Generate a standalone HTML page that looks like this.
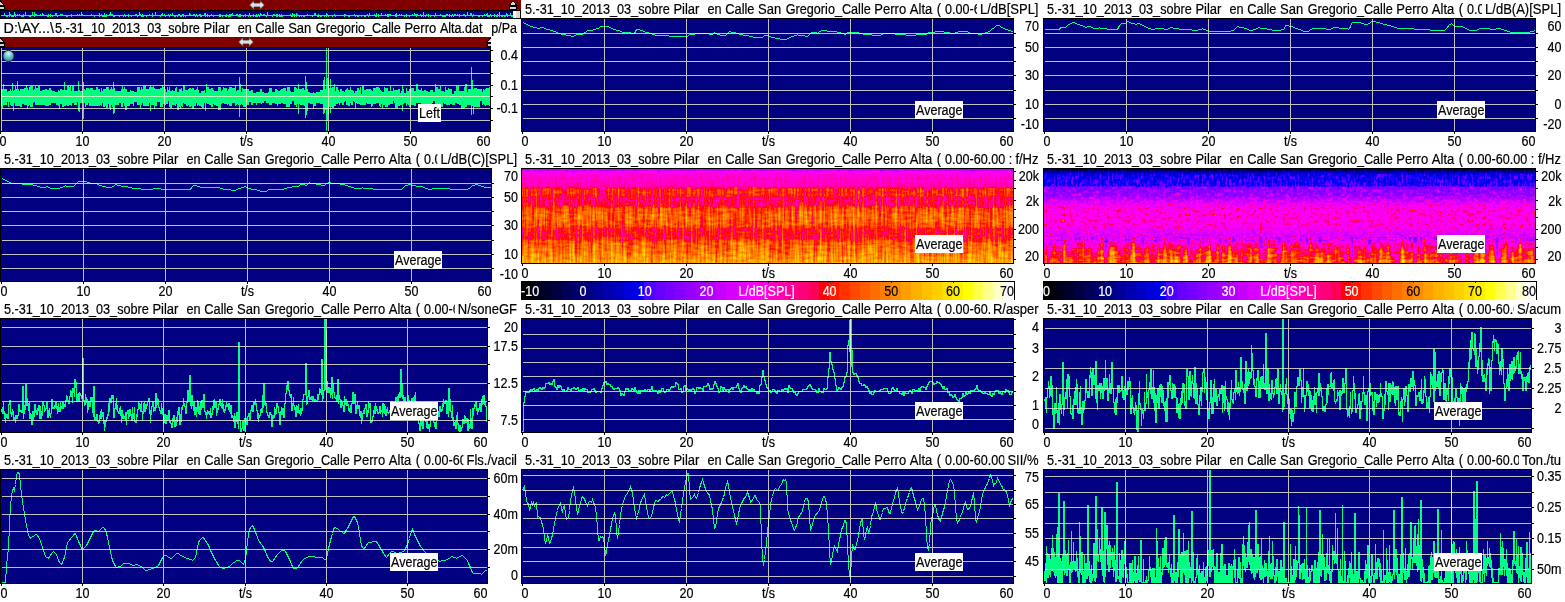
<!DOCTYPE html>
<html><head><meta charset="utf-8"><title>Analysis</title>
<style>html,body{margin:0;padding:0;background:#fff;width:1565px;height:602px;overflow:hidden}svg{display:block}text{stroke-width:0.2px}</style>
</head><body>
<svg width="1565" height="602" viewBox="0 0 1565 602" style="font-family:'Liberation Sans',Arial,sans-serif;font-size:14px;white-space:pre">
<rect width="1565" height="602" fill="#fff"/>
<defs>
<clipPath id="cr1c1"><rect x="1" y="48" width="489" height="83"/></clipPath>
<clipPath id="cr1c2"><rect x="522" y="19" width="491" height="112"/></clipPath>
<clipPath id="cr1c3"><rect x="1044" y="19" width="491" height="112"/></clipPath>
<clipPath id="cr2c1"><rect x="1" y="169" width="490" height="112"/></clipPath>
<clipPath id="cr2c2"><rect x="522" y="169" width="491" height="94"/></clipPath>
<clipPath id="cr2c3"><rect x="1044" y="169" width="491" height="94"/></clipPath>
<clipPath id="cr3c1"><rect x="1" y="319" width="486" height="113"/></clipPath>
<clipPath id="cr3c2"><rect x="522" y="319" width="491" height="113"/></clipPath>
<clipPath id="cr3c3"><rect x="1044" y="319" width="487" height="113"/></clipPath>
<clipPath id="cr4c1"><rect x="1" y="470" width="486" height="113"/></clipPath>
<clipPath id="cr4c2"><rect x="522" y="470" width="491" height="113"/></clipPath>
<clipPath id="cr4c3"><rect x="1044" y="470" width="487" height="113"/></clipPath>
</defs>
<rect x="0" y="47" width="491" height="85" fill="#000" shape-rendering="crispEdges"/>
<rect x="1" y="48" width="489" height="83" fill="#000080" shape-rendering="crispEdges"/>
<g clip-path="url(#cr1c1)"><path d="M1.5 89V106M2.5 89V108M3.5 84V105M4.5 89V105M5.5 89V105M6.5 89V105M7.5 92V102M8.5 91V107M9.5 91V102M10.5 89V105M11.5 91V106M12.5 83V106M13.5 91V111M14.5 90V103M15.5 86V106M16.5 89V106M17.5 81V106M18.5 89V106M19.5 91V106M20.5 89V107M21.5 89V107M22.5 89V104M23.5 89V104M24.5 88V105M25.5 88V105M26.5 85V105M27.5 88V109M28.5 90V106M29.5 87V105M30.5 86V107M31.5 86V107M32.5 86V107M33.5 90V103M34.5 89V102M35.5 86V105M36.5 88V105M37.5 88V105M38.5 86V105M39.5 86V105M40.5 91V105M41.5 91V105M42.5 90V105M43.5 90V105M44.5 90V105M45.5 89V106M46.5 89V106M47.5 90V106M48.5 90V106M49.5 88V105M50.5 88V105M51.5 90V103M52.5 91V103M53.5 91V103M54.5 91V103M55.5 92V103M56.5 92V105M57.5 92V105M58.5 90V106M59.5 91V109M60.5 89V104M61.5 89V104M62.5 90V107M63.5 90V107M64.5 82V106M65.5 90V106M66.5 90V105M67.5 86V106M68.5 86V106M69.5 87V105M70.5 86V105M71.5 91V106M72.5 86V103M73.5 86V103M74.5 91V105M75.5 91V105M76.5 91V105M77.5 91V102M78.5 81V111M79.5 90V112M80.5 91V103M81.5 91V103M82.5 91V103M83.5 82V119M84.5 89V103M85.5 90V107M86.5 88V105M87.5 88V105M88.5 88V103M89.5 89V106M90.5 88V106M91.5 88V106M92.5 88V106M93.5 90V106M94.5 90V106M95.5 90V106M96.5 87V106M97.5 87V106M98.5 89V106M99.5 89V106M100.5 92V105M101.5 88V106M102.5 91V103M103.5 89V107M104.5 89V107M105.5 89V106M106.5 87V108M107.5 87V108M108.5 87V104M109.5 90V108M110.5 89V110M111.5 87V105M112.5 89V107M113.5 82V114M114.5 88V113M115.5 91V105M116.5 91V105M117.5 91V105M118.5 91V105M119.5 91V103M120.5 91V103M121.5 89V107M122.5 86V107M123.5 89V103M124.5 87V106M125.5 89V110M126.5 89V110M127.5 92V106M128.5 92V106M129.5 92V106M130.5 90V104M131.5 91V104M132.5 91V104M133.5 91V106M134.5 92V102M135.5 92V102M136.5 92V102M137.5 87V105M138.5 87V105M139.5 87V105M140.5 90V109M141.5 87V105M142.5 89V103M143.5 86V106M144.5 86V106M145.5 86V106M146.5 89V106M147.5 89V106M148.5 89V106M149.5 87V103M150.5 85V111M151.5 87V105M152.5 87V105M153.5 86V105M154.5 88V109M155.5 89V106M156.5 89V106M157.5 89V102M158.5 89V102M159.5 89V102M160.5 88V107M161.5 88V107M162.5 85V107M163.5 87V104M164.5 87V104M165.5 89V105M166.5 92V104M167.5 87V104M168.5 90V101M169.5 87V107M170.5 91V108M171.5 91V108M172.5 90V105M173.5 91V105M174.5 91V105M175.5 88V106M176.5 87V104M177.5 92V110M178.5 92V110M179.5 89V107M180.5 89V109M181.5 88V106M182.5 91V107M183.5 85V103M184.5 86V104M185.5 90V104M186.5 90V106M187.5 90V106M188.5 89V105M189.5 88V107M190.5 88V107M191.5 89V106M192.5 88V109M193.5 88V109M194.5 90V106M195.5 90V106M196.5 89V103M197.5 87V106M198.5 90V105M199.5 93V106M200.5 93V106M201.5 91V107M202.5 91V108M203.5 91V108M204.5 90V103M205.5 93V111M206.5 84V103M207.5 87V104M208.5 87V104M209.5 89V105M210.5 89V105M211.5 88V107M212.5 88V107M213.5 90V104M214.5 91V105M215.5 91V105M216.5 91V106M217.5 91V106M218.5 87V110M219.5 87V110M220.5 87V110M221.5 91V104M222.5 90V103M223.5 87V103M224.5 88V104M225.5 88V104M226.5 88V104M227.5 91V105M228.5 89V104M229.5 87V106M230.5 87V106M231.5 87V106M232.5 88V103M233.5 88V103M234.5 88V103M235.5 85V106M236.5 91V105M237.5 90V104M238.5 90V105M239.5 77V117M240.5 84V105M241.5 92V104M242.5 88V105M243.5 89V107M244.5 89V107M245.5 89V107M246.5 89V105M247.5 89V105M248.5 89V105M249.5 91V102M250.5 91V102M251.5 90V105M252.5 90V105M253.5 93V103M254.5 93V103M255.5 93V103M256.5 92V105M257.5 92V103M258.5 92V103M259.5 92V103M260.5 89V103M261.5 89V104M262.5 92V103M263.5 92V103M264.5 93V101M265.5 93V101M266.5 93V103M267.5 93V103M268.5 92V103M269.5 88V105M270.5 88V105M271.5 88V105M272.5 92V103M273.5 92V103M274.5 92V103M275.5 89V104M276.5 89V104M277.5 90V106M278.5 91V104M279.5 91V104M280.5 90V104M281.5 89V103M282.5 89V103M283.5 88V104M284.5 88V104M285.5 88V104M286.5 91V107M287.5 87V107M288.5 87V107M289.5 87V107M290.5 91V104M291.5 92V104M292.5 92V101M293.5 92V101M294.5 87V105M295.5 87V105M296.5 88V107M297.5 89V104M298.5 84V114M299.5 89V104M300.5 89V105M301.5 89V105M302.5 88V105M303.5 88V105M304.5 90V106M305.5 76V118M306.5 82V115M307.5 89V111M308.5 92V103M309.5 92V103M310.5 93V104M311.5 93V104M312.5 93V104M313.5 92V109M314.5 93V106M315.5 93V106M316.5 92V103M317.5 92V103M318.5 92V103M319.5 92V103M320.5 90V104M321.5 90V104M322.5 90V104M323.5 80V114M324.5 77V113M325.5 89V110M326.5 48V132M327.5 78V121M328.5 80V114M329.5 88V107M330.5 79V113M331.5 88V107M332.5 87V108M333.5 87V108M334.5 84V106M335.5 91V106M336.5 87V104M337.5 87V104M338.5 90V103M339.5 92V105M340.5 89V103M341.5 89V103M342.5 91V105M343.5 91V105M344.5 92V102M345.5 90V101M346.5 89V105M347.5 88V105M348.5 90V106M349.5 90V106M350.5 87V103M351.5 90V105M352.5 90V105M353.5 91V101M354.5 93V102M355.5 91V109M356.5 91V103M357.5 88V104M358.5 88V104M359.5 90V104M360.5 87V105M361.5 94V105M362.5 86V105M363.5 86V105M364.5 90V105M365.5 90V105M366.5 89V103M367.5 89V104M368.5 89V104M369.5 89V104M370.5 89V104M371.5 90V107M372.5 91V106M373.5 88V104M374.5 88V104M375.5 88V104M376.5 87V103M377.5 87V103M378.5 87V103M379.5 88V106M380.5 90V107M381.5 91V104M382.5 92V108M383.5 92V105M384.5 87V105M385.5 88V107M386.5 88V107M387.5 88V107M388.5 91V105M389.5 91V105M390.5 86V104M391.5 91V104M392.5 91V104M393.5 88V101M394.5 90V103M395.5 90V108M396.5 90V108M397.5 90V108M398.5 89V106M399.5 89V106M400.5 93V105M401.5 91V105M402.5 85V111M403.5 89V104M404.5 93V103M405.5 93V103M406.5 88V106M407.5 91V104M408.5 91V105M409.5 89V107M410.5 89V107M411.5 88V105M412.5 88V105M413.5 88V105M414.5 91V106M415.5 91V106M416.5 84V103M417.5 84V103M418.5 89V103M419.5 90V103M420.5 90V103M421.5 88V106M422.5 91V105M423.5 91V105M424.5 90V109M425.5 90V109M426.5 91V107M427.5 91V107M428.5 92V110M429.5 92V110M430.5 90V104M431.5 90V104M432.5 90V103M433.5 92V101M434.5 92V101M435.5 84V104M436.5 87V104M437.5 87V104M438.5 89V104M439.5 89V104M440.5 86V107M441.5 91V107M442.5 91V107M443.5 91V103M444.5 92V104M445.5 87V104M446.5 90V105M447.5 90V105M448.5 88V105M449.5 89V105M450.5 89V104M451.5 89V104M452.5 94V105M453.5 94V105M454.5 91V105M455.5 91V103M456.5 86V103M457.5 86V104M458.5 86V104M459.5 91V105M460.5 91V105M461.5 91V109M462.5 91V109M463.5 91V109M464.5 87V108M465.5 84V107M466.5 84V107M467.5 92V105M468.5 89V105M469.5 89V105M470.5 89V105M471.5 67V115M472.5 80V106M473.5 89V114M474.5 88V107M475.5 88V107M476.5 88V107M477.5 89V107M478.5 89V107M479.5 89V107M480.5 89V101M481.5 89V101M482.5 92V105M483.5 89V104M484.5 90V105M485.5 89V106M486.5 88V105M487.5 88V105M488.5 88V105M489.5 87V106" stroke="#00ff80" stroke-width="1" fill="none" shape-rendering="crispEdges"/></g>
<path d="M2 50.5H490M2 61.5H490M2 73.5H490M2 85.5H490M2 96.5H490M2 108.5H490M2 120.5H490M82.5 48V131M164.5 48V131M246.5 48V131M328.5 48V131M410.5 48V131M1.5 48V131" stroke="#c0c0c0" stroke-width="1" fill="none" shape-rendering="crispEdges" style="mix-blend-mode:lighten"/>
<path d="M491 50.5h2M491 61.5h2M491 73.5h2M491 85.5h2M491 96.5h2M491 108.5h2M491 120.5h2M0.5 132v2M82.5 132v2M164.5 132v2M246.5 132v2M328.5 132v2M410.5 132v2" stroke="#000" stroke-width="1" fill="none" shape-rendering="crispEdges"/>
<text x="-0.5" y="146" fill="#000" stroke="#000" textLength="6.98" lengthAdjust="spacingAndGlyphs">0</text>
<text x="82.5" y="146" text-anchor="middle" fill="#000" stroke="#000" textLength="13.95" lengthAdjust="spacingAndGlyphs">10</text>
<text x="164.5" y="146" text-anchor="middle" fill="#000" stroke="#000" textLength="13.95" lengthAdjust="spacingAndGlyphs">20</text>
<text x="246.5" y="146" text-anchor="middle" fill="#000" stroke="#000" textLength="13.24" lengthAdjust="spacingAndGlyphs">t/s</text>
<text x="328.5" y="146" text-anchor="middle" fill="#000" stroke="#000" textLength="13.95" lengthAdjust="spacingAndGlyphs">40</text>
<text x="410.5" y="146" text-anchor="middle" fill="#000" stroke="#000" textLength="13.95" lengthAdjust="spacingAndGlyphs">50</text>
<text x="490.5" y="146" text-anchor="end" fill="#000" stroke="#000" textLength="13.95" lengthAdjust="spacingAndGlyphs">60</text>
<text x="518" y="59.7" text-anchor="end" fill="#000" stroke="#000" textLength="17.44" lengthAdjust="spacingAndGlyphs">0.4</text>
<text x="518" y="89.7" text-anchor="end" fill="#000" stroke="#000" textLength="17.44" lengthAdjust="spacingAndGlyphs">0.1</text>
<text x="518" y="113.2" text-anchor="end" fill="#000" stroke="#000" textLength="21.62" lengthAdjust="spacingAndGlyphs">-0.1</text>
<rect x="418" y="104" width="23" height="18" fill="#fff" shape-rendering="crispEdges"/>
<text x="419" y="118" fill="#000" stroke="#000" textLength="20.92" lengthAdjust="spacingAndGlyphs">Left</text>
<rect x="521" y="18" width="493" height="114" fill="#000" shape-rendering="crispEdges"/>
<rect x="522" y="19" width="491" height="112" fill="#000080" shape-rendering="crispEdges"/>
<g clip-path="url(#cr1c2)"><polyline points="522.5,22.5 523.5,22.5 524.5,23.5 525.5,23.5 526.5,24.5 527.5,24.5 528.5,25.5 529.5,25.5 530.5,26.5 531.5,26.5 532.5,26.5 533.5,27.5 534.5,27.5 535.5,27.5 536.5,27.5 537.5,28.5 538.5,28.5 539.5,28.5 540.5,27.5 541.5,27.5 542.5,27.5 543.5,27.5 544.5,28.5 545.5,28.5 546.5,29.5 547.5,29.5 548.5,29.5 549.5,29.5 550.5,30.5 551.5,30.5 552.5,30.5 553.5,31.5 554.5,31.5 555.5,31.5 556.5,32.5 557.5,32.5 558.5,33.5 559.5,33.5 560.5,33.5 561.5,34.5 562.5,34.5 563.5,34.5 564.5,34.5 565.5,34.5 566.5,35.5 567.5,35.5 568.5,35.5 569.5,35.5 570.5,35.5 571.5,36.5 572.5,36.5 573.5,36.5 574.5,35.5 575.5,35.5 576.5,34.5 577.5,34.5 578.5,34.5 579.5,34.5 580.5,34.5 581.5,34.5 582.5,34.5 583.5,33.5 584.5,32.5 585.5,32.5 586.5,31.5 587.5,30.5 588.5,30.5 589.5,30.5 590.5,30.5 591.5,30.5 592.5,30.5 593.5,29.5 594.5,29.5 595.5,29.5 596.5,28.5 597.5,28.5 598.5,28.5 599.5,27.5 600.5,26.5 601.5,26.5 602.5,26.5 603.5,26.5 604.5,26.5 605.5,26.5 606.5,26.5 607.5,26.5 608.5,26.5 609.5,27.5 610.5,27.5 611.5,28.5 612.5,28.5 613.5,29.5 614.5,29.5 615.5,29.5 616.5,30.5 617.5,30.5 618.5,30.5 619.5,30.5 620.5,31.5 621.5,31.5 622.5,32.5 623.5,32.5 624.5,32.5 625.5,32.5 626.5,32.5 627.5,32.5 628.5,32.5 629.5,32.5 630.5,32.5 631.5,33.5 632.5,33.5 633.5,33.5 634.5,33.5 635.5,31.5 636.5,29.5 637.5,29.5 638.5,29.5 639.5,29.5 640.5,30.5 641.5,30.5 642.5,30.5 643.5,31.5 644.5,31.5 645.5,32.5 646.5,32.5 647.5,32.5 648.5,32.5 649.5,33.5 650.5,33.5 651.5,33.5 652.5,34.5 653.5,34.5 654.5,34.5 655.5,35.5 656.5,35.5 657.5,35.5 658.5,35.5 659.5,35.5 660.5,35.5 661.5,35.5 662.5,35.5 663.5,35.5 664.5,35.5 665.5,35.5 666.5,35.5 667.5,35.5 668.5,35.5 669.5,36.5 670.5,36.5 671.5,36.5 672.5,36.5 673.5,36.5 674.5,36.5 675.5,36.5 676.5,36.5 677.5,36.5 678.5,36.5 679.5,36.5 680.5,36.5 681.5,36.5 682.5,36.5 683.5,36.5 684.5,36.5 685.5,36.5 686.5,36.5 687.5,36.5 688.5,35.5 689.5,34.5 690.5,34.5 691.5,34.5 692.5,34.5 693.5,34.5 694.5,34.5 695.5,33.5 696.5,33.5 697.5,33.5 698.5,33.5 699.5,33.5 700.5,33.5 701.5,33.5 702.5,33.5 703.5,33.5 704.5,33.5 705.5,33.5 706.5,33.5 707.5,33.5 708.5,33.5 709.5,34.5 710.5,34.5 711.5,34.5 712.5,34.5 713.5,33.5 714.5,32.5 715.5,33.5 716.5,33.5 717.5,34.5 718.5,34.5 719.5,34.5 720.5,35.5 721.5,35.5 722.5,35.5 723.5,35.5 724.5,35.5 725.5,35.5 726.5,34.5 727.5,33.5 728.5,32.5 729.5,31.5 730.5,31.5 731.5,32.5 732.5,32.5 733.5,32.5 734.5,32.5 735.5,32.5 736.5,33.5 737.5,33.5 738.5,33.5 739.5,34.5 740.5,34.5 741.5,34.5 742.5,34.5 743.5,35.5 744.5,35.5 745.5,35.5 746.5,35.5 747.5,35.5 748.5,35.5 749.5,36.5 750.5,36.5 751.5,36.5 752.5,36.5 753.5,37.5 754.5,37.5 755.5,37.5 756.5,37.5 757.5,37.5 758.5,37.5 759.5,37.5 760.5,37.5 761.5,37.5 762.5,37.5 763.5,36.5 764.5,35.5 765.5,35.5 766.5,35.5 767.5,35.5 768.5,35.5 769.5,36.5 770.5,36.5 771.5,37.5 772.5,37.5 773.5,37.5 774.5,37.5 775.5,38.5 776.5,38.5 777.5,38.5 778.5,38.5 779.5,38.5 780.5,39.5 781.5,39.5 782.5,39.5 783.5,39.5 784.5,39.5 785.5,39.5 786.5,39.5 787.5,38.5 788.5,38.5 789.5,37.5 790.5,37.5 791.5,36.5 792.5,36.5 793.5,36.5 794.5,35.5 795.5,35.5 796.5,35.5 797.5,34.5 798.5,35.5 799.5,35.5 800.5,35.5 801.5,35.5 802.5,35.5 803.5,35.5 804.5,35.5 805.5,36.5 806.5,36.5 807.5,36.5 808.5,35.5 809.5,34.5 810.5,33.5 811.5,32.5 812.5,32.5 813.5,32.5 814.5,32.5 815.5,32.5 816.5,32.5 817.5,33.5 818.5,32.5 819.5,31.5 820.5,31.5 821.5,30.5 822.5,30.5 823.5,30.5 824.5,30.5 825.5,30.5 826.5,30.5 827.5,31.5 828.5,31.5 829.5,31.5 830.5,31.5 831.5,31.5 832.5,31.5 833.5,31.5 834.5,31.5 835.5,31.5 836.5,31.5 837.5,32.5 838.5,32.5 839.5,32.5 840.5,32.5 841.5,33.5 842.5,33.5 843.5,33.5 844.5,34.5 845.5,34.5 846.5,33.5 847.5,32.5 848.5,32.5 849.5,32.5 850.5,32.5 851.5,32.5 852.5,32.5 853.5,32.5 854.5,32.5 855.5,32.5 856.5,32.5 857.5,32.5 858.5,32.5 859.5,33.5 860.5,33.5 861.5,33.5 862.5,33.5 863.5,34.5 864.5,34.5 865.5,34.5 866.5,34.5 867.5,34.5 868.5,34.5 869.5,34.5 870.5,34.5 871.5,34.5 872.5,35.5 873.5,35.5 874.5,35.5 875.5,35.5 876.5,35.5 877.5,35.5 878.5,35.5 879.5,35.5 880.5,35.5 881.5,34.5 882.5,34.5 883.5,33.5 884.5,33.5 885.5,33.5 886.5,33.5 887.5,33.5 888.5,33.5 889.5,33.5 890.5,33.5 891.5,33.5 892.5,33.5 893.5,33.5 894.5,33.5 895.5,34.5 896.5,34.5 897.5,34.5 898.5,34.5 899.5,34.5 900.5,34.5 901.5,34.5 902.5,34.5 903.5,34.5 904.5,34.5 905.5,34.5 906.5,35.5 907.5,35.5 908.5,35.5 909.5,35.5 910.5,35.5 911.5,35.5 912.5,35.5 913.5,35.5 914.5,35.5 915.5,35.5 916.5,34.5 917.5,34.5 918.5,34.5 919.5,34.5 920.5,34.5 921.5,34.5 922.5,34.5 923.5,34.5 924.5,34.5 925.5,34.5 926.5,34.5 927.5,33.5 928.5,32.5 929.5,32.5 930.5,32.5 931.5,32.5 932.5,32.5 933.5,32.5 934.5,32.5 935.5,31.5 936.5,31.5 937.5,31.5 938.5,31.5 939.5,31.5 940.5,31.5 941.5,31.5 942.5,31.5 943.5,31.5 944.5,32.5 945.5,32.5 946.5,32.5 947.5,32.5 948.5,32.5 949.5,32.5 950.5,33.5 951.5,33.5 952.5,33.5 953.5,33.5 954.5,33.5 955.5,32.5 956.5,32.5 957.5,32.5 958.5,31.5 959.5,31.5 960.5,31.5 961.5,31.5 962.5,31.5 963.5,31.5 964.5,31.5 965.5,31.5 966.5,31.5 967.5,31.5 968.5,32.5 969.5,32.5 970.5,33.5 971.5,33.5 972.5,33.5 973.5,33.5 974.5,33.5 975.5,33.5 976.5,33.5 977.5,33.5 978.5,34.5 979.5,34.5 980.5,34.5 981.5,34.5 982.5,33.5 983.5,33.5 984.5,33.5 985.5,32.5 986.5,32.5 987.5,32.5 988.5,31.5 989.5,31.5 990.5,30.5 991.5,29.5 992.5,28.5 993.5,28.5 994.5,27.5 995.5,26.5 996.5,25.5 997.5,25.5 998.5,25.5 999.5,25.5 1000.5,26.5 1001.5,27.5 1002.5,27.5 1003.5,28.5 1004.5,28.5 1005.5,29.5 1006.5,29.5 1007.5,29.5 1008.5,30.5 1009.5,30.5 1010.5,30.5 1011.5,31.5 1012.5,31.5 1013.5,32.5" fill="none" stroke="#00ff80" stroke-width="1" shape-rendering="crispEdges"/></g>
<path d="M523 33.5H1013M523 47.5H1013M523 61.5H1013M523 75.5H1013M523 90.5H1013M523 104.5H1013M523 118.5H1013M604.5 19V131M686.5 19V131M768.5 19V131M850.5 19V131M932.5 19V131" stroke="#c0c0c0" stroke-width="1" fill="none" shape-rendering="crispEdges" style="mix-blend-mode:lighten"/>
<path d="M1014 33.5h2M1014 47.5h2M1014 61.5h2M1014 75.5h2M1014 90.5h2M1014 104.5h2M1014 118.5h2M522.5 132v2M604.5 132v2M686.5 132v2M768.5 132v2M850.5 132v2M932.5 132v2" stroke="#000" stroke-width="1" fill="none" shape-rendering="crispEdges"/>
<text x="521.5" y="146" fill="#000" stroke="#000" textLength="6.98" lengthAdjust="spacingAndGlyphs">0</text>
<text x="604.5" y="146" text-anchor="middle" fill="#000" stroke="#000" textLength="13.95" lengthAdjust="spacingAndGlyphs">10</text>
<text x="686.5" y="146" text-anchor="middle" fill="#000" stroke="#000" textLength="13.95" lengthAdjust="spacingAndGlyphs">20</text>
<text x="768.5" y="146" text-anchor="middle" fill="#000" stroke="#000" textLength="13.24" lengthAdjust="spacingAndGlyphs">t/s</text>
<text x="850.5" y="146" text-anchor="middle" fill="#000" stroke="#000" textLength="13.95" lengthAdjust="spacingAndGlyphs">40</text>
<text x="932.5" y="146" text-anchor="middle" fill="#000" stroke="#000" textLength="13.95" lengthAdjust="spacingAndGlyphs">50</text>
<text x="1013.5" y="146" text-anchor="end" fill="#000" stroke="#000" textLength="13.95" lengthAdjust="spacingAndGlyphs">60</text>
<text x="1039.0" y="31.1" text-anchor="end" fill="#000" stroke="#000" textLength="13.95" lengthAdjust="spacingAndGlyphs">70</text>
<text x="1039.0" y="52.0" text-anchor="end" fill="#000" stroke="#000" textLength="13.95" lengthAdjust="spacingAndGlyphs">50</text>
<text x="1039.0" y="80.1" text-anchor="end" fill="#000" stroke="#000" textLength="13.95" lengthAdjust="spacingAndGlyphs">30</text>
<text x="1039.0" y="109.0" text-anchor="end" fill="#000" stroke="#000" textLength="13.95" lengthAdjust="spacingAndGlyphs">10</text>
<text x="1039.0" y="128.5" text-anchor="end" fill="#000" stroke="#000" textLength="18.13" lengthAdjust="spacingAndGlyphs">-10</text>
<clipPath id="tr1c2"><rect x="520.5" y="0" width="456.5" height="18"/></clipPath>
<g clip-path="url(#tr1c2)"><text y="14" fill="#000" stroke="#000"><tspan x="524.98" textLength="144.80" lengthAdjust="spacingAndGlyphs">5.-31_10_2013_03_sobre</tspan> <tspan x="673.43" textLength="26.01" lengthAdjust="spacingAndGlyphs">Pilar</tspan>  <tspan x="707.55" textLength="14.08" lengthAdjust="spacingAndGlyphs">en</tspan> <tspan x="725.24" textLength="29.26" lengthAdjust="spacingAndGlyphs">Calle</tspan> <tspan x="758.11" textLength="23.13" lengthAdjust="spacingAndGlyphs">San</tspan> <tspan x="785.75" textLength="85.00" lengthAdjust="spacingAndGlyphs">Gregorio_Calle</tspan> <tspan x="874.33" textLength="31.79" lengthAdjust="spacingAndGlyphs">Perro</tspan> <tspan x="909.87" textLength="22.40" lengthAdjust="spacingAndGlyphs">Alta</tspan> <tspan x="936.69" textLength="4.33" lengthAdjust="spacingAndGlyphs">(</tspan> <tspan x="945.09" textLength="60.10" lengthAdjust="spacingAndGlyphs">0.00-60.00</tspan> <tspan x="1008.81" textLength="3.49" lengthAdjust="spacingAndGlyphs">:</tspan></text></g>
<text x="1038.5" y="14" text-anchor="end" fill="#000" stroke="#000" textLength="58.55" lengthAdjust="spacingAndGlyphs">L/dB[SPL]</text>
<rect x="915" y="101" width="48" height="18" fill="#fff" shape-rendering="crispEdges"/>
<text x="916" y="115" fill="#000" stroke="#000" textLength="46.5" lengthAdjust="spacingAndGlyphs">Average</text>
<rect x="1043" y="18" width="493" height="114" fill="#000" shape-rendering="crispEdges"/>
<rect x="1044" y="19" width="491" height="112" fill="#000080" shape-rendering="crispEdges"/>
<g clip-path="url(#cr1c3)"><polyline points="1044.5,29.5 1045.5,29.5 1046.5,29.5 1047.5,29.5 1048.5,29.5 1049.5,29.5 1050.5,29.5 1051.5,29.5 1052.5,29.5 1053.5,29.5 1054.5,29.5 1055.5,29.5 1056.5,29.5 1057.5,29.5 1058.5,29.5 1059.5,29.5 1060.5,27.5 1061.5,27.5 1062.5,27.5 1063.5,27.5 1064.5,27.5 1065.5,27.5 1066.5,26.5 1067.5,25.5 1068.5,24.5 1069.5,24.5 1070.5,23.5 1071.5,23.5 1072.5,22.5 1073.5,22.5 1074.5,22.5 1075.5,23.5 1076.5,23.5 1077.5,24.5 1078.5,24.5 1079.5,24.5 1080.5,25.5 1081.5,25.5 1082.5,25.5 1083.5,26.5 1084.5,26.5 1085.5,27.5 1086.5,27.5 1087.5,26.5 1088.5,26.5 1089.5,26.5 1090.5,26.5 1091.5,27.5 1092.5,27.5 1093.5,28.5 1094.5,28.5 1095.5,28.5 1096.5,28.5 1097.5,28.5 1098.5,28.5 1099.5,27.5 1100.5,28.5 1101.5,28.5 1102.5,28.5 1103.5,28.5 1104.5,28.5 1105.5,28.5 1106.5,28.5 1107.5,29.5 1108.5,29.5 1109.5,29.5 1110.5,29.5 1111.5,29.5 1112.5,29.5 1113.5,29.5 1114.5,29.5 1115.5,29.5 1116.5,29.5 1117.5,29.5 1118.5,27.5 1119.5,25.5 1120.5,24.5 1121.5,23.5 1122.5,23.5 1123.5,23.5 1124.5,23.5 1125.5,23.5 1126.5,22.5 1127.5,21.5 1128.5,21.5 1129.5,22.5 1130.5,22.5 1131.5,23.5 1132.5,23.5 1133.5,23.5 1134.5,23.5 1135.5,24.5 1136.5,24.5 1137.5,23.5 1138.5,23.5 1139.5,23.5 1140.5,24.5 1141.5,24.5 1142.5,25.5 1143.5,25.5 1144.5,26.5 1145.5,26.5 1146.5,27.5 1147.5,27.5 1148.5,28.5 1149.5,28.5 1150.5,28.5 1151.5,29.5 1152.5,29.5 1153.5,29.5 1154.5,29.5 1155.5,28.5 1156.5,28.5 1157.5,28.5 1158.5,28.5 1159.5,28.5 1160.5,28.5 1161.5,28.5 1162.5,28.5 1163.5,28.5 1164.5,29.5 1165.5,29.5 1166.5,29.5 1167.5,29.5 1168.5,28.5 1169.5,28.5 1170.5,27.5 1171.5,27.5 1172.5,27.5 1173.5,28.5 1174.5,28.5 1175.5,28.5 1176.5,28.5 1177.5,28.5 1178.5,28.5 1179.5,29.5 1180.5,29.5 1181.5,29.5 1182.5,29.5 1183.5,29.5 1184.5,29.5 1185.5,29.5 1186.5,29.5 1187.5,29.5 1188.5,29.5 1189.5,29.5 1190.5,29.5 1191.5,29.5 1192.5,30.5 1193.5,30.5 1194.5,30.5 1195.5,30.5 1196.5,30.5 1197.5,30.5 1198.5,29.5 1199.5,29.5 1200.5,29.5 1201.5,29.5 1202.5,28.5 1203.5,29.5 1204.5,29.5 1205.5,29.5 1206.5,30.5 1207.5,30.5 1208.5,30.5 1209.5,31.5 1210.5,31.5 1211.5,31.5 1212.5,31.5 1213.5,31.5 1214.5,31.5 1215.5,31.5 1216.5,31.5 1217.5,31.5 1218.5,31.5 1219.5,31.5 1220.5,31.5 1221.5,31.5 1222.5,31.5 1223.5,31.5 1224.5,31.5 1225.5,31.5 1226.5,31.5 1227.5,31.5 1228.5,31.5 1229.5,31.5 1230.5,31.5 1231.5,30.5 1232.5,30.5 1233.5,30.5 1234.5,29.5 1235.5,28.5 1236.5,27.5 1237.5,26.5 1238.5,26.5 1239.5,27.5 1240.5,27.5 1241.5,27.5 1242.5,27.5 1243.5,27.5 1244.5,28.5 1245.5,28.5 1246.5,28.5 1247.5,29.5 1248.5,29.5 1249.5,30.5 1250.5,30.5 1251.5,30.5 1252.5,30.5 1253.5,29.5 1254.5,29.5 1255.5,29.5 1256.5,28.5 1257.5,28.5 1258.5,27.5 1259.5,27.5 1260.5,28.5 1261.5,28.5 1262.5,28.5 1263.5,28.5 1264.5,28.5 1265.5,28.5 1266.5,28.5 1267.5,29.5 1268.5,29.5 1269.5,29.5 1270.5,29.5 1271.5,29.5 1272.5,30.5 1273.5,30.5 1274.5,30.5 1275.5,30.5 1276.5,30.5 1277.5,30.5 1278.5,30.5 1279.5,30.5 1280.5,30.5 1281.5,29.5 1282.5,29.5 1283.5,29.5 1284.5,28.5 1285.5,25.5 1286.5,25.5 1287.5,25.5 1288.5,25.5 1289.5,26.5 1290.5,26.5 1291.5,26.5 1292.5,26.5 1293.5,27.5 1294.5,27.5 1295.5,28.5 1296.5,28.5 1297.5,28.5 1298.5,29.5 1299.5,29.5 1300.5,29.5 1301.5,30.5 1302.5,30.5 1303.5,31.5 1304.5,31.5 1305.5,31.5 1306.5,31.5 1307.5,31.5 1308.5,31.5 1309.5,30.5 1310.5,29.5 1311.5,29.5 1312.5,28.5 1313.5,28.5 1314.5,28.5 1315.5,28.5 1316.5,28.5 1317.5,28.5 1318.5,28.5 1319.5,28.5 1320.5,28.5 1321.5,28.5 1322.5,28.5 1323.5,28.5 1324.5,28.5 1325.5,28.5 1326.5,29.5 1327.5,29.5 1328.5,29.5 1329.5,29.5 1330.5,29.5 1331.5,28.5 1332.5,28.5 1333.5,27.5 1334.5,27.5 1335.5,27.5 1336.5,27.5 1337.5,27.5 1338.5,27.5 1339.5,28.5 1340.5,28.5 1341.5,28.5 1342.5,28.5 1343.5,28.5 1344.5,28.5 1345.5,28.5 1346.5,28.5 1347.5,28.5 1348.5,29.5 1349.5,28.5 1350.5,26.5 1351.5,23.5 1352.5,22.5 1353.5,22.5 1354.5,22.5 1355.5,22.5 1356.5,22.5 1357.5,22.5 1358.5,22.5 1359.5,22.5 1360.5,22.5 1361.5,23.5 1362.5,23.5 1363.5,23.5 1364.5,24.5 1365.5,24.5 1366.5,24.5 1367.5,24.5 1368.5,23.5 1369.5,23.5 1370.5,22.5 1371.5,21.5 1372.5,21.5 1373.5,21.5 1374.5,21.5 1375.5,21.5 1376.5,22.5 1377.5,22.5 1378.5,22.5 1379.5,22.5 1380.5,23.5 1381.5,23.5 1382.5,23.5 1383.5,24.5 1384.5,24.5 1385.5,24.5 1386.5,24.5 1387.5,25.5 1388.5,25.5 1389.5,25.5 1390.5,25.5 1391.5,26.5 1392.5,26.5 1393.5,26.5 1394.5,27.5 1395.5,27.5 1396.5,27.5 1397.5,28.5 1398.5,28.5 1399.5,28.5 1400.5,28.5 1401.5,28.5 1402.5,28.5 1403.5,28.5 1404.5,28.5 1405.5,28.5 1406.5,28.5 1407.5,28.5 1408.5,28.5 1409.5,28.5 1410.5,28.5 1411.5,28.5 1412.5,28.5 1413.5,28.5 1414.5,29.5 1415.5,29.5 1416.5,29.5 1417.5,29.5 1418.5,29.5 1419.5,29.5 1420.5,29.5 1421.5,29.5 1422.5,29.5 1423.5,29.5 1424.5,29.5 1425.5,29.5 1426.5,29.5 1427.5,29.5 1428.5,29.5 1429.5,29.5 1430.5,30.5 1431.5,30.5 1432.5,30.5 1433.5,30.5 1434.5,30.5 1435.5,30.5 1436.5,30.5 1437.5,30.5 1438.5,30.5 1439.5,30.5 1440.5,30.5 1441.5,30.5 1442.5,30.5 1443.5,30.5 1444.5,30.5 1445.5,29.5 1446.5,28.5 1447.5,27.5 1448.5,25.5 1449.5,24.5 1450.5,24.5 1451.5,23.5 1452.5,24.5 1453.5,25.5 1454.5,26.5 1455.5,26.5 1456.5,26.5 1457.5,26.5 1458.5,26.5 1459.5,26.5 1460.5,26.5 1461.5,26.5 1462.5,26.5 1463.5,27.5 1464.5,27.5 1465.5,28.5 1466.5,28.5 1467.5,29.5 1468.5,29.5 1469.5,30.5 1470.5,30.5 1471.5,30.5 1472.5,30.5 1473.5,30.5 1474.5,30.5 1475.5,30.5 1476.5,30.5 1477.5,29.5 1478.5,29.5 1479.5,28.5 1480.5,28.5 1481.5,28.5 1482.5,28.5 1483.5,28.5 1484.5,28.5 1485.5,28.5 1486.5,28.5 1487.5,28.5 1488.5,28.5 1489.5,28.5 1490.5,29.5 1491.5,29.5 1492.5,29.5 1493.5,29.5 1494.5,29.5 1495.5,29.5 1496.5,28.5 1497.5,28.5 1498.5,28.5 1499.5,28.5 1500.5,28.5 1501.5,29.5 1502.5,29.5 1503.5,29.5 1504.5,30.5 1505.5,30.5 1506.5,30.5 1507.5,31.5 1508.5,31.5 1509.5,31.5 1510.5,32.5 1511.5,32.5 1512.5,32.5 1513.5,32.5 1514.5,32.5 1515.5,32.5 1516.5,32.5 1517.5,32.5 1518.5,32.5 1519.5,32.5 1520.5,32.5 1521.5,32.5 1522.5,32.5 1523.5,32.5 1524.5,32.5 1525.5,32.5 1526.5,32.5 1527.5,32.5 1528.5,32.5 1529.5,32.5 1530.5,31.5 1531.5,31.5 1532.5,31.5 1533.5,31.5 1534.5,30.5" fill="none" stroke="#00ff80" stroke-width="1" shape-rendering="crispEdges"/></g>
<path d="M1045 33.5H1535M1045 47.5H1535M1045 61.5H1535M1045 75.5H1535M1045 90.5H1535M1045 104.5H1535M1045 118.5H1535M1126.5 19V131M1208.5 19V131M1290.5 19V131M1372.5 19V131M1454.5 19V131" stroke="#c0c0c0" stroke-width="1" fill="none" shape-rendering="crispEdges" style="mix-blend-mode:lighten"/>
<path d="M1536 33.5h2M1536 47.5h2M1536 61.5h2M1536 75.5h2M1536 90.5h2M1536 104.5h2M1536 118.5h2M1044.5 132v2M1126.5 132v2M1208.5 132v2M1290.5 132v2M1372.5 132v2M1454.5 132v2" stroke="#000" stroke-width="1" fill="none" shape-rendering="crispEdges"/>
<text x="1043.5" y="146" fill="#000" stroke="#000" textLength="6.98" lengthAdjust="spacingAndGlyphs">0</text>
<text x="1126.5" y="146" text-anchor="middle" fill="#000" stroke="#000" textLength="13.95" lengthAdjust="spacingAndGlyphs">10</text>
<text x="1208.5" y="146" text-anchor="middle" fill="#000" stroke="#000" textLength="13.95" lengthAdjust="spacingAndGlyphs">20</text>
<text x="1290.5" y="146" text-anchor="middle" fill="#000" stroke="#000" textLength="13.24" lengthAdjust="spacingAndGlyphs">t/s</text>
<text x="1372.5" y="146" text-anchor="middle" fill="#000" stroke="#000" textLength="13.95" lengthAdjust="spacingAndGlyphs">40</text>
<text x="1454.5" y="146" text-anchor="middle" fill="#000" stroke="#000" textLength="13.95" lengthAdjust="spacingAndGlyphs">50</text>
<text x="1535.5" y="146" text-anchor="end" fill="#000" stroke="#000" textLength="13.95" lengthAdjust="spacingAndGlyphs">60</text>
<text x="1561.5" y="31.1" text-anchor="end" fill="#000" stroke="#000" textLength="13.95" lengthAdjust="spacingAndGlyphs">60</text>
<text x="1561.5" y="52.0" text-anchor="end" fill="#000" stroke="#000" textLength="13.95" lengthAdjust="spacingAndGlyphs">40</text>
<text x="1561.5" y="80.1" text-anchor="end" fill="#000" stroke="#000" textLength="13.95" lengthAdjust="spacingAndGlyphs">20</text>
<text x="1561.5" y="109.0" text-anchor="end" fill="#000" stroke="#000" textLength="6.98" lengthAdjust="spacingAndGlyphs">0</text>
<text x="1561.5" y="128.5" text-anchor="end" fill="#000" stroke="#000" textLength="18.13" lengthAdjust="spacingAndGlyphs">-20</text>
<clipPath id="tr1c3"><rect x="1043" y="0" width="439.1" height="18"/></clipPath>
<g clip-path="url(#tr1c3)"><text y="14" fill="#000" stroke="#000"><tspan x="1046.98" textLength="144.80" lengthAdjust="spacingAndGlyphs">5.-31_10_2013_03_sobre</tspan> <tspan x="1195.43" textLength="26.01" lengthAdjust="spacingAndGlyphs">Pilar</tspan>  <tspan x="1229.55" textLength="14.08" lengthAdjust="spacingAndGlyphs">en</tspan> <tspan x="1247.24" textLength="29.26" lengthAdjust="spacingAndGlyphs">Calle</tspan> <tspan x="1280.11" textLength="23.13" lengthAdjust="spacingAndGlyphs">San</tspan> <tspan x="1307.75" textLength="85.00" lengthAdjust="spacingAndGlyphs">Gregorio_Calle</tspan> <tspan x="1396.33" textLength="31.79" lengthAdjust="spacingAndGlyphs">Perro</tspan> <tspan x="1431.87" textLength="22.40" lengthAdjust="spacingAndGlyphs">Alta</tspan> <tspan x="1458.69" textLength="4.33" lengthAdjust="spacingAndGlyphs">(</tspan> <tspan x="1467.09" textLength="60.10" lengthAdjust="spacingAndGlyphs">0.00-60.00</tspan> <tspan x="1530.81" textLength="3.49" lengthAdjust="spacingAndGlyphs">:</tspan></text></g>
<text x="1561" y="14" text-anchor="end" fill="#000" stroke="#000" textLength="75.88" lengthAdjust="spacingAndGlyphs">L/dB(A)[SPL]</text>
<rect x="1437" y="101" width="48" height="18" fill="#fff" shape-rendering="crispEdges"/>
<text x="1438" y="115" fill="#000" stroke="#000" textLength="46.5" lengthAdjust="spacingAndGlyphs">Average</text>
<rect x="0" y="168" width="492" height="114" fill="#000" shape-rendering="crispEdges"/>
<rect x="1" y="169" width="490" height="112" fill="#000080" shape-rendering="crispEdges"/>
<g clip-path="url(#cr2c1)"><polyline points="1.5,178.5 2.5,178.5 3.5,179.5 4.5,179.5 5.5,180.5 6.5,180.5 7.5,181.5 8.5,181.5 9.5,182.5 10.5,182.5 11.5,183.5 12.5,183.5 13.5,183.5 14.5,183.5 15.5,183.5 16.5,183.5 17.5,183.5 18.5,183.5 19.5,183.5 20.5,183.5 21.5,183.5 22.5,184.5 23.5,184.5 24.5,184.5 25.5,184.5 26.5,184.5 27.5,184.5 28.5,184.5 29.5,184.5 30.5,184.5 31.5,184.5 32.5,184.5 33.5,185.5 34.5,185.5 35.5,185.5 36.5,185.5 37.5,186.5 38.5,186.5 39.5,186.5 40.5,187.5 41.5,187.5 42.5,187.5 43.5,187.5 44.5,187.5 45.5,187.5 46.5,186.5 47.5,186.5 48.5,187.5 49.5,187.5 50.5,188.5 51.5,188.5 52.5,188.5 53.5,188.5 54.5,188.5 55.5,188.5 56.5,188.5 57.5,188.5 58.5,188.5 59.5,188.5 60.5,187.5 61.5,187.5 62.5,187.5 63.5,186.5 64.5,186.5 65.5,185.5 66.5,186.5 67.5,186.5 68.5,186.5 69.5,186.5 70.5,186.5 71.5,186.5 72.5,186.5 73.5,186.5 74.5,185.5 75.5,184.5 76.5,183.5 77.5,182.5 78.5,181.5 79.5,181.5 80.5,181.5 81.5,181.5 82.5,181.5 83.5,181.5 84.5,181.5 85.5,181.5 86.5,181.5 87.5,182.5 88.5,182.5 89.5,182.5 90.5,183.5 91.5,183.5 92.5,183.5 93.5,183.5 94.5,183.5 95.5,183.5 96.5,183.5 97.5,184.5 98.5,184.5 99.5,185.5 100.5,185.5 101.5,185.5 102.5,186.5 103.5,186.5 104.5,186.5 105.5,186.5 106.5,187.5 107.5,187.5 108.5,187.5 109.5,187.5 110.5,187.5 111.5,187.5 112.5,186.5 113.5,186.5 114.5,185.5 115.5,184.5 116.5,184.5 117.5,185.5 118.5,185.5 119.5,185.5 120.5,185.5 121.5,186.5 122.5,186.5 123.5,186.5 124.5,186.5 125.5,186.5 126.5,186.5 127.5,186.5 128.5,187.5 129.5,187.5 130.5,187.5 131.5,187.5 132.5,188.5 133.5,188.5 134.5,188.5 135.5,188.5 136.5,188.5 137.5,188.5 138.5,188.5 139.5,188.5 140.5,188.5 141.5,189.5 142.5,189.5 143.5,189.5 144.5,189.5 145.5,189.5 146.5,189.5 147.5,189.5 148.5,189.5 149.5,189.5 150.5,189.5 151.5,189.5 152.5,189.5 153.5,188.5 154.5,188.5 155.5,188.5 156.5,188.5 157.5,188.5 158.5,188.5 159.5,188.5 160.5,188.5 161.5,189.5 162.5,189.5 163.5,189.5 164.5,189.5 165.5,189.5 166.5,189.5 167.5,189.5 168.5,189.5 169.5,189.5 170.5,189.5 171.5,189.5 172.5,189.5 173.5,189.5 174.5,189.5 175.5,189.5 176.5,189.5 177.5,189.5 178.5,189.5 179.5,189.5 180.5,189.5 181.5,189.5 182.5,189.5 183.5,189.5 184.5,189.5 185.5,189.5 186.5,189.5 187.5,189.5 188.5,189.5 189.5,189.5 190.5,189.5 191.5,187.5 192.5,186.5 193.5,185.5 194.5,185.5 195.5,185.5 196.5,185.5 197.5,186.5 198.5,186.5 199.5,186.5 200.5,187.5 201.5,187.5 202.5,187.5 203.5,187.5 204.5,187.5 205.5,187.5 206.5,187.5 207.5,187.5 208.5,187.5 209.5,187.5 210.5,187.5 211.5,187.5 212.5,187.5 213.5,187.5 214.5,187.5 215.5,187.5 216.5,187.5 217.5,187.5 218.5,187.5 219.5,187.5 220.5,188.5 221.5,188.5 222.5,188.5 223.5,189.5 224.5,189.5 225.5,189.5 226.5,189.5 227.5,189.5 228.5,189.5 229.5,189.5 230.5,189.5 231.5,190.5 232.5,190.5 233.5,190.5 234.5,190.5 235.5,190.5 236.5,189.5 237.5,189.5 238.5,188.5 239.5,188.5 240.5,188.5 241.5,187.5 242.5,187.5 243.5,187.5 244.5,186.5 245.5,186.5 246.5,187.5 247.5,187.5 248.5,188.5 249.5,188.5 250.5,188.5 251.5,189.5 252.5,189.5 253.5,189.5 254.5,189.5 255.5,189.5 256.5,189.5 257.5,190.5 258.5,190.5 259.5,190.5 260.5,191.5 261.5,191.5 262.5,191.5 263.5,191.5 264.5,191.5 265.5,191.5 266.5,191.5 267.5,190.5 268.5,189.5 269.5,189.5 270.5,189.5 271.5,189.5 272.5,189.5 273.5,189.5 274.5,189.5 275.5,189.5 276.5,189.5 277.5,189.5 278.5,189.5 279.5,189.5 280.5,189.5 281.5,189.5 282.5,189.5 283.5,189.5 284.5,188.5 285.5,188.5 286.5,188.5 287.5,187.5 288.5,187.5 289.5,187.5 290.5,187.5 291.5,187.5 292.5,186.5 293.5,186.5 294.5,186.5 295.5,186.5 296.5,186.5 297.5,186.5 298.5,186.5 299.5,185.5 300.5,184.5 301.5,184.5 302.5,184.5 303.5,184.5 304.5,184.5 305.5,185.5 306.5,185.5 307.5,184.5 308.5,183.5 309.5,182.5 310.5,183.5 311.5,183.5 312.5,183.5 313.5,183.5 314.5,183.5 315.5,183.5 316.5,184.5 317.5,184.5 318.5,184.5 319.5,184.5 320.5,184.5 321.5,185.5 322.5,185.5 323.5,185.5 324.5,185.5 325.5,184.5 326.5,183.5 327.5,183.5 328.5,182.5 329.5,182.5 330.5,182.5 331.5,183.5 332.5,183.5 333.5,183.5 334.5,183.5 335.5,183.5 336.5,183.5 337.5,183.5 338.5,183.5 339.5,183.5 340.5,184.5 341.5,184.5 342.5,184.5 343.5,184.5 344.5,184.5 345.5,185.5 346.5,185.5 347.5,185.5 348.5,186.5 349.5,186.5 350.5,186.5 351.5,187.5 352.5,187.5 353.5,187.5 354.5,188.5 355.5,188.5 356.5,188.5 357.5,188.5 358.5,188.5 359.5,188.5 360.5,188.5 361.5,188.5 362.5,187.5 363.5,188.5 364.5,188.5 365.5,188.5 366.5,188.5 367.5,188.5 368.5,188.5 369.5,188.5 370.5,188.5 371.5,188.5 372.5,188.5 373.5,189.5 374.5,189.5 375.5,189.5 376.5,189.5 377.5,189.5 378.5,189.5 379.5,189.5 380.5,189.5 381.5,189.5 382.5,189.5 383.5,189.5 384.5,189.5 385.5,189.5 386.5,189.5 387.5,189.5 388.5,189.5 389.5,189.5 390.5,189.5 391.5,189.5 392.5,189.5 393.5,189.5 394.5,189.5 395.5,189.5 396.5,189.5 397.5,189.5 398.5,189.5 399.5,189.5 400.5,189.5 401.5,189.5 402.5,188.5 403.5,187.5 404.5,186.5 405.5,185.5 406.5,185.5 407.5,185.5 408.5,184.5 409.5,184.5 410.5,184.5 411.5,185.5 412.5,185.5 413.5,185.5 414.5,185.5 415.5,185.5 416.5,186.5 417.5,186.5 418.5,186.5 419.5,186.5 420.5,186.5 421.5,186.5 422.5,186.5 423.5,187.5 424.5,187.5 425.5,188.5 426.5,188.5 427.5,188.5 428.5,189.5 429.5,189.5 430.5,189.5 431.5,189.5 432.5,188.5 433.5,188.5 434.5,188.5 435.5,188.5 436.5,188.5 437.5,188.5 438.5,188.5 439.5,188.5 440.5,188.5 441.5,188.5 442.5,188.5 443.5,188.5 444.5,188.5 445.5,188.5 446.5,188.5 447.5,188.5 448.5,188.5 449.5,188.5 450.5,189.5 451.5,189.5 452.5,189.5 453.5,189.5 454.5,189.5 455.5,189.5 456.5,189.5 457.5,189.5 458.5,189.5 459.5,189.5 460.5,189.5 461.5,189.5 462.5,189.5 463.5,189.5 464.5,189.5 465.5,189.5 466.5,189.5 467.5,189.5 468.5,188.5 469.5,188.5 470.5,187.5 471.5,186.5 472.5,185.5 473.5,185.5 474.5,185.5 475.5,184.5 476.5,184.5 477.5,184.5 478.5,185.5 479.5,185.5 480.5,185.5 481.5,186.5 482.5,186.5 483.5,186.5 484.5,187.5 485.5,187.5 486.5,187.5 487.5,187.5 488.5,187.5 489.5,187.5 490.5,187.5" fill="none" stroke="#00ff80" stroke-width="1" shape-rendering="crispEdges"/></g>
<path d="M2 183.5H491M2 197.5H491M2 211.5H491M2 225.5H491M2 240.5H491M2 254.5H491M2 268.5H491M83.5 169V281M165.5 169V281M247.5 169V281M329.5 169V281M411.5 169V281" stroke="#c0c0c0" stroke-width="1" fill="none" shape-rendering="crispEdges" style="mix-blend-mode:lighten"/>
<path d="M492 183.5h2M492 197.5h2M492 211.5h2M492 225.5h2M492 240.5h2M492 254.5h2M492 268.5h2M1.5 282v2M83.5 282v2M165.5 282v2M247.5 282v2M329.5 282v2M411.5 282v2" stroke="#000" stroke-width="1" fill="none" shape-rendering="crispEdges"/>
<text x="0.5" y="296" fill="#000" stroke="#000" textLength="6.98" lengthAdjust="spacingAndGlyphs">0</text>
<text x="83.5" y="296" text-anchor="middle" fill="#000" stroke="#000" textLength="13.95" lengthAdjust="spacingAndGlyphs">10</text>
<text x="165.5" y="296" text-anchor="middle" fill="#000" stroke="#000" textLength="13.95" lengthAdjust="spacingAndGlyphs">20</text>
<text x="247.5" y="296" text-anchor="middle" fill="#000" stroke="#000" textLength="13.24" lengthAdjust="spacingAndGlyphs">t/s</text>
<text x="329.5" y="296" text-anchor="middle" fill="#000" stroke="#000" textLength="13.95" lengthAdjust="spacingAndGlyphs">40</text>
<text x="411.5" y="296" text-anchor="middle" fill="#000" stroke="#000" textLength="13.95" lengthAdjust="spacingAndGlyphs">50</text>
<text x="491.5" y="296" text-anchor="end" fill="#000" stroke="#000" textLength="13.95" lengthAdjust="spacingAndGlyphs">60</text>
<text x="518" y="181.1" text-anchor="end" fill="#000" stroke="#000" textLength="13.95" lengthAdjust="spacingAndGlyphs">70</text>
<text x="518" y="202.0" text-anchor="end" fill="#000" stroke="#000" textLength="13.95" lengthAdjust="spacingAndGlyphs">50</text>
<text x="518" y="230.1" text-anchor="end" fill="#000" stroke="#000" textLength="13.95" lengthAdjust="spacingAndGlyphs">30</text>
<text x="518" y="259.0" text-anchor="end" fill="#000" stroke="#000" textLength="13.95" lengthAdjust="spacingAndGlyphs">10</text>
<text x="518" y="278.5" text-anchor="end" fill="#000" stroke="#000" textLength="18.13" lengthAdjust="spacingAndGlyphs">-10</text>
<clipPath id="tr2c1"><rect x="0" y="150" width="437.4" height="18"/></clipPath>
<g clip-path="url(#tr2c1)"><text y="164" fill="#000" stroke="#000"><tspan x="3.98" textLength="144.80" lengthAdjust="spacingAndGlyphs">5.-31_10_2013_03_sobre</tspan> <tspan x="152.43" textLength="26.01" lengthAdjust="spacingAndGlyphs">Pilar</tspan>  <tspan x="186.55" textLength="14.08" lengthAdjust="spacingAndGlyphs">en</tspan> <tspan x="204.24" textLength="29.26" lengthAdjust="spacingAndGlyphs">Calle</tspan> <tspan x="237.11" textLength="23.13" lengthAdjust="spacingAndGlyphs">San</tspan> <tspan x="264.75" textLength="85.00" lengthAdjust="spacingAndGlyphs">Gregorio_Calle</tspan> <tspan x="353.33" textLength="31.79" lengthAdjust="spacingAndGlyphs">Perro</tspan> <tspan x="388.87" textLength="22.40" lengthAdjust="spacingAndGlyphs">Alta</tspan> <tspan x="415.69" textLength="4.33" lengthAdjust="spacingAndGlyphs">(</tspan> <tspan x="424.09" textLength="60.10" lengthAdjust="spacingAndGlyphs">0.00-60.00</tspan> <tspan x="487.81" textLength="3.49" lengthAdjust="spacingAndGlyphs">:</tspan></text></g>
<text x="517" y="164" text-anchor="end" fill="#000" stroke="#000" textLength="76.59" lengthAdjust="spacingAndGlyphs">L/dB(C)[SPL]</text>
<rect x="394" y="251" width="48" height="18" fill="#fff" shape-rendering="crispEdges"/>
<text x="395" y="265" fill="#000" stroke="#000" textLength="46.5" lengthAdjust="spacingAndGlyphs">Average</text>
<rect x="521" y="168" width="493" height="96" fill="#000" shape-rendering="crispEdges"/>
<linearGradient id="gr2c2" gradientUnits="userSpaceOnUse" x1="0" y1="169" x2="0" y2="262"><stop offset="0.0000" stop-color="rgb(92,92,92)"/><stop offset="0.0161" stop-color="rgb(108,108,108)"/><stop offset="0.0323" stop-color="rgb(121,121,121)"/><stop offset="0.0753" stop-color="rgb(128,128,128)"/><stop offset="0.1828" stop-color="rgb(134,134,134)"/><stop offset="0.2043" stop-color="rgb(153,153,153)"/><stop offset="0.2258" stop-color="rgb(166,166,166)"/><stop offset="0.2796" stop-color="rgb(163,163,163)"/><stop offset="0.3118" stop-color="rgb(150,150,150)"/><stop offset="0.3871" stop-color="rgb(153,153,153)"/><stop offset="0.4301" stop-color="rgb(175,175,175)"/><stop offset="0.5269" stop-color="rgb(182,182,182)"/><stop offset="0.6129" stop-color="rgb(175,175,175)"/><stop offset="0.6452" stop-color="rgb(159,159,159)"/><stop offset="0.7419" stop-color="rgb(159,159,159)"/><stop offset="0.7849" stop-color="rgb(178,178,178)"/><stop offset="0.8925" stop-color="rgb(188,188,188)"/><stop offset="1.0000" stop-color="rgb(201,201,201)"/></linearGradient>
<filter id="fr2c20" filterUnits="userSpaceOnUse" x="522" y="169" width="491" height="18" color-interpolation-filters="sRGB">
<feTurbulence type="fractalNoise" baseFrequency="0.45 0.05" numOctaves="2" seed="3" result="n1"/>
<feColorMatrix in="n1" type="matrix" values="1 0 0 0 0 1 0 0 0 0 1 0 0 0 0 0 0 0 0 1" result="g1"/>
<feTurbulence type="fractalNoise" baseFrequency="0.12 0.35" numOctaves="2" seed="53" result="n2"/>
<feColorMatrix in="n2" type="matrix" values="1 0 0 0 0 1 0 0 0 0 1 0 0 0 0 0 0 0 0 1" result="g2"/>
<feComposite in="g1" in2="g2" operator="arithmetic" k2="0.65" k3="0.35" k4="0" result="nz0"/>
<feComponentTransfer in="nz0" result="nz"><feFuncR type="table" tableValues="0 1"/><feFuncG type="table" tableValues="0 1"/><feFuncB type="table" tableValues="0 1"/></feComponentTransfer>
<feComposite in="SourceGraphic" in2="nz" operator="arithmetic" k2="1" k3="0.16" k4="-0.080" result="sum"/>
<feComponentTransfer in="sum"><feFuncR type="table" tableValues="0.000 0.000 0.000 0.000 0.000 0.000 0.000 0.000 0.059 0.420 0.502 0.596 0.686 0.784 0.882 0.980 1.000 1.000 1.000 1.000 1.000 1.000 1.000 1.000 1.000 1.000 1.000 1.000 1.000 1.000 1.000 1.000 1.000"/><feFuncG type="table" tableValues="0.000 0.000 0.000 0.000 0.000 0.000 0.000 0.000 0.000 0.000 0.000 0.000 0.000 0.000 0.000 0.000 0.000 0.000 0.000 0.000 0.031 0.184 0.314 0.412 0.510 0.608 0.706 0.792 0.882 0.980 1.000 1.000 1.000"/><feFuncB type="table" tableValues="0.000 0.125 0.251 0.376 0.502 0.627 0.753 0.878 1.000 1.000 1.000 1.000 1.000 1.000 1.000 1.000 0.843 0.698 0.549 0.353 0.000 0.000 0.000 0.000 0.000 0.000 0.000 0.000 0.000 0.000 0.314 0.675 1.000"/><feFuncA type="identity"/></feComponentTransfer>
</filter>
<rect x="522" y="169" width="491" height="18" fill="url(#gr2c2)" filter="url(#fr2c20)"/>
<filter id="fr2c21" filterUnits="userSpaceOnUse" x="522" y="187" width="491" height="76" color-interpolation-filters="sRGB">
<feTurbulence type="fractalNoise" baseFrequency="0.45 0.03" numOctaves="2" seed="4" result="n1"/>
<feColorMatrix in="n1" type="matrix" values="1 0 0 0 0 1 0 0 0 0 1 0 0 0 0 0 0 0 0 1" result="g1"/>
<feTurbulence type="fractalNoise" baseFrequency="0.12 0.35" numOctaves="2" seed="54" result="n2"/>
<feColorMatrix in="n2" type="matrix" values="1 0 0 0 0 1 0 0 0 0 1 0 0 0 0 0 0 0 0 1" result="g2"/>
<feComposite in="g1" in2="g2" operator="arithmetic" k2="0.65" k3="0.35" k4="0" result="nz0"/>
<feComponentTransfer in="nz0" result="nz"><feFuncR type="table" tableValues="0 1"/><feFuncG type="table" tableValues="0 1"/><feFuncB type="table" tableValues="0 1"/></feComponentTransfer>
<feComposite in="SourceGraphic" in2="nz" operator="arithmetic" k2="1" k3="0.5" k4="-0.250" result="sum"/>
<feComponentTransfer in="sum"><feFuncR type="table" tableValues="0.000 0.000 0.000 0.000 0.000 0.000 0.000 0.000 0.059 0.420 0.502 0.596 0.686 0.784 0.882 0.980 1.000 1.000 1.000 1.000 1.000 1.000 1.000 1.000 1.000 1.000 1.000 1.000 1.000 1.000 1.000 1.000 1.000"/><feFuncG type="table" tableValues="0.000 0.000 0.000 0.000 0.000 0.000 0.000 0.000 0.000 0.000 0.000 0.000 0.000 0.000 0.000 0.000 0.000 0.000 0.000 0.000 0.031 0.184 0.314 0.412 0.510 0.608 0.706 0.792 0.882 0.980 1.000 1.000 1.000"/><feFuncB type="table" tableValues="0.000 0.125 0.251 0.376 0.502 0.627 0.753 0.878 1.000 1.000 1.000 1.000 1.000 1.000 1.000 1.000 0.843 0.698 0.549 0.353 0.000 0.000 0.000 0.000 0.000 0.000 0.000 0.000 0.000 0.000 0.314 0.675 1.000"/><feFuncA type="identity"/></feComponentTransfer>
</filter>
<rect x="522" y="187" width="491" height="76" fill="url(#gr2c2)" filter="url(#fr2c21)"/>
<path d="M1014 171.5h2M1014 180.5h2M1014 188.5h2M1014 200.5h2M1014 209.5h2M1014 217.5h2M1014 229.5h2M1014 239.5h2M1014 247.5h2M1014 259.5h2M522.5 264v2M604.5 264v2M686.5 264v2M768.5 264v2M850.5 264v2M932.5 264v2" stroke="#000" stroke-width="1" fill="none" shape-rendering="crispEdges"/>
<text x="521.5" y="278" fill="#000" stroke="#000" textLength="6.98" lengthAdjust="spacingAndGlyphs">0</text>
<text x="604.5" y="278" text-anchor="middle" fill="#000" stroke="#000" textLength="13.95" lengthAdjust="spacingAndGlyphs">10</text>
<text x="686.5" y="278" text-anchor="middle" fill="#000" stroke="#000" textLength="13.95" lengthAdjust="spacingAndGlyphs">20</text>
<text x="768.5" y="278" text-anchor="middle" fill="#000" stroke="#000" textLength="13.24" lengthAdjust="spacingAndGlyphs">t/s</text>
<text x="850.5" y="278" text-anchor="middle" fill="#000" stroke="#000" textLength="13.95" lengthAdjust="spacingAndGlyphs">40</text>
<text x="932.5" y="278" text-anchor="middle" fill="#000" stroke="#000" textLength="13.95" lengthAdjust="spacingAndGlyphs">50</text>
<text x="1013.5" y="278" text-anchor="end" fill="#000" stroke="#000" textLength="13.95" lengthAdjust="spacingAndGlyphs">60</text>
<text x="1039.0" y="181.1" text-anchor="end" fill="#000" stroke="#000" textLength="20.23" lengthAdjust="spacingAndGlyphs">20k</text>
<text x="1039.0" y="205.6" text-anchor="end" fill="#000" stroke="#000" textLength="13.25" lengthAdjust="spacingAndGlyphs">2k</text>
<text x="1039.0" y="234.1" text-anchor="end" fill="#000" stroke="#000" textLength="20.93" lengthAdjust="spacingAndGlyphs">200</text>
<text x="1039.0" y="261.4" text-anchor="end" fill="#000" stroke="#000" textLength="13.95" lengthAdjust="spacingAndGlyphs">20</text>
<clipPath id="tr2c2"><rect x="520.5" y="150" width="491.9" height="18"/></clipPath>
<g clip-path="url(#tr2c2)"><text y="164" fill="#000" stroke="#000"><tspan x="524.98" textLength="144.80" lengthAdjust="spacingAndGlyphs">5.-31_10_2013_03_sobre</tspan> <tspan x="673.43" textLength="26.01" lengthAdjust="spacingAndGlyphs">Pilar</tspan>  <tspan x="707.55" textLength="14.08" lengthAdjust="spacingAndGlyphs">en</tspan> <tspan x="725.24" textLength="29.26" lengthAdjust="spacingAndGlyphs">Calle</tspan> <tspan x="758.11" textLength="23.13" lengthAdjust="spacingAndGlyphs">San</tspan> <tspan x="785.75" textLength="85.00" lengthAdjust="spacingAndGlyphs">Gregorio_Calle</tspan> <tspan x="874.33" textLength="31.79" lengthAdjust="spacingAndGlyphs">Perro</tspan> <tspan x="909.87" textLength="22.40" lengthAdjust="spacingAndGlyphs">Alta</tspan> <tspan x="936.69" textLength="4.33" lengthAdjust="spacingAndGlyphs">(</tspan> <tspan x="945.09" textLength="60.10" lengthAdjust="spacingAndGlyphs">0.00-60.00</tspan> <tspan x="1008.81" textLength="3.49" lengthAdjust="spacingAndGlyphs">:</tspan></text></g>
<text x="1038.5" y="164" text-anchor="end" fill="#000" stroke="#000" textLength="23.12" lengthAdjust="spacingAndGlyphs">f/Hz</text>
<rect x="915" y="235" width="48" height="18" fill="#fff" shape-rendering="crispEdges"/>
<text x="916" y="249" fill="#000" stroke="#000" textLength="46.5" lengthAdjust="spacingAndGlyphs">Average</text>
<rect x="1043" y="168" width="493" height="96" fill="#000" shape-rendering="crispEdges"/>
<linearGradient id="gr2c3" gradientUnits="userSpaceOnUse" x1="0" y1="169" x2="0" y2="262"><stop offset="0.0000" stop-color="rgb(10,10,10)"/><stop offset="0.0108" stop-color="rgb(19,19,19)"/><stop offset="0.0215" stop-color="rgb(32,32,32)"/><stop offset="0.0430" stop-color="rgb(51,51,51)"/><stop offset="0.0645" stop-color="rgb(61,61,61)"/><stop offset="0.1828" stop-color="rgb(64,64,64)"/><stop offset="0.1935" stop-color="rgb(80,80,80)"/><stop offset="0.2796" stop-color="rgb(86,86,86)"/><stop offset="0.3333" stop-color="rgb(102,102,102)"/><stop offset="0.3871" stop-color="rgb(118,118,118)"/><stop offset="0.4624" stop-color="rgb(123,123,123)"/><stop offset="0.6022" stop-color="rgb(123,123,123)"/><stop offset="0.6559" stop-color="rgb(115,115,115)"/><stop offset="0.7204" stop-color="rgb(108,108,108)"/><stop offset="0.7634" stop-color="rgb(112,112,112)"/><stop offset="0.8065" stop-color="rgb(131,131,131)"/><stop offset="0.8710" stop-color="rgb(150,150,150)"/><stop offset="0.9355" stop-color="rgb(163,163,163)"/><stop offset="1.0000" stop-color="rgb(175,175,175)"/></linearGradient>
<filter id="fr2c30" filterUnits="userSpaceOnUse" x="1044" y="169" width="491" height="18" color-interpolation-filters="sRGB">
<feTurbulence type="fractalNoise" baseFrequency="0.5 0.15" numOctaves="2" seed="9" result="n1"/>
<feColorMatrix in="n1" type="matrix" values="1 0 0 0 0 1 0 0 0 0 1 0 0 0 0 0 0 0 0 1" result="g1"/>
<feTurbulence type="fractalNoise" baseFrequency="0.12 0.35" numOctaves="2" seed="59" result="n2"/>
<feColorMatrix in="n2" type="matrix" values="1 0 0 0 0 1 0 0 0 0 1 0 0 0 0 0 0 0 0 1" result="g2"/>
<feComposite in="g1" in2="g2" operator="arithmetic" k2="0.65" k3="0.35" k4="0" result="nz0"/>
<feComponentTransfer in="nz0" result="nz"><feFuncR type="table" tableValues="0 1"/><feFuncG type="table" tableValues="0 1"/><feFuncB type="table" tableValues="0 1"/></feComponentTransfer>
<feComposite in="SourceGraphic" in2="nz" operator="arithmetic" k2="1" k3="0.28" k4="-0.140" result="sum"/>
<feComponentTransfer in="sum"><feFuncR type="table" tableValues="0.000 0.000 0.000 0.000 0.000 0.000 0.000 0.000 0.059 0.420 0.502 0.596 0.686 0.784 0.882 0.980 1.000 1.000 1.000 1.000 1.000 1.000 1.000 1.000 1.000 1.000 1.000 1.000 1.000 1.000 1.000 1.000 1.000"/><feFuncG type="table" tableValues="0.000 0.000 0.000 0.000 0.000 0.000 0.000 0.000 0.000 0.000 0.000 0.000 0.000 0.000 0.000 0.000 0.000 0.000 0.000 0.000 0.031 0.184 0.314 0.412 0.510 0.608 0.706 0.792 0.882 0.980 1.000 1.000 1.000"/><feFuncB type="table" tableValues="0.000 0.125 0.251 0.376 0.502 0.627 0.753 0.878 1.000 1.000 1.000 1.000 1.000 1.000 1.000 1.000 0.843 0.698 0.549 0.353 0.000 0.000 0.000 0.000 0.000 0.000 0.000 0.000 0.000 0.000 0.314 0.675 1.000"/><feFuncA type="identity"/></feComponentTransfer>
</filter>
<rect x="1044" y="169" width="491" height="18" fill="url(#gr2c3)" filter="url(#fr2c30)"/>
<filter id="fr2c31" filterUnits="userSpaceOnUse" x="1044" y="187" width="491" height="50" color-interpolation-filters="sRGB">
<feTurbulence type="fractalNoise" baseFrequency="0.3 0.3" numOctaves="2" seed="11" result="n1"/>
<feColorMatrix in="n1" type="matrix" values="1 0 0 0 0 1 0 0 0 0 1 0 0 0 0 0 0 0 0 1" result="g1"/>
<feTurbulence type="fractalNoise" baseFrequency="0.12 0.35" numOctaves="2" seed="61" result="n2"/>
<feColorMatrix in="n2" type="matrix" values="1 0 0 0 0 1 0 0 0 0 1 0 0 0 0 0 0 0 0 1" result="g2"/>
<feComposite in="g1" in2="g2" operator="arithmetic" k2="0.65" k3="0.35" k4="0" result="nz0"/>
<feComponentTransfer in="nz0" result="nz"><feFuncR type="table" tableValues="0.42 0.44 0.47 0.5 0.6 0.8 1"/><feFuncG type="table" tableValues="0.42 0.44 0.47 0.5 0.6 0.8 1"/><feFuncB type="table" tableValues="0.42 0.44 0.47 0.5 0.6 0.8 1"/></feComponentTransfer>
<feComposite in="SourceGraphic" in2="nz" operator="arithmetic" k2="1" k3="0.9" k4="-0.450" result="sum"/>
<feComponentTransfer in="sum"><feFuncR type="table" tableValues="0.000 0.000 0.000 0.000 0.000 0.000 0.000 0.000 0.059 0.420 0.502 0.596 0.686 0.784 0.882 0.980 1.000 1.000 1.000 1.000 1.000 1.000 1.000 1.000 1.000 1.000 1.000 1.000 1.000 1.000 1.000 1.000 1.000"/><feFuncG type="table" tableValues="0.000 0.000 0.000 0.000 0.000 0.000 0.000 0.000 0.000 0.000 0.000 0.000 0.000 0.000 0.000 0.000 0.000 0.000 0.000 0.000 0.031 0.184 0.314 0.412 0.510 0.608 0.706 0.792 0.882 0.980 1.000 1.000 1.000"/><feFuncB type="table" tableValues="0.000 0.125 0.251 0.376 0.502 0.627 0.753 0.878 1.000 1.000 1.000 1.000 1.000 1.000 1.000 1.000 0.843 0.698 0.549 0.353 0.000 0.000 0.000 0.000 0.000 0.000 0.000 0.000 0.000 0.000 0.314 0.675 1.000"/><feFuncA type="identity"/></feComponentTransfer>
</filter>
<rect x="1044" y="187" width="491" height="50" fill="url(#gr2c3)" filter="url(#fr2c31)"/>
<filter id="fr2c32" filterUnits="userSpaceOnUse" x="1044" y="237" width="491" height="26" color-interpolation-filters="sRGB">
<feTurbulence type="fractalNoise" baseFrequency="0.22 0.025" numOctaves="2" seed="13" result="n1"/>
<feColorMatrix in="n1" type="matrix" values="1 0 0 0 0 1 0 0 0 0 1 0 0 0 0 0 0 0 0 1" result="g1"/>
<feTurbulence type="fractalNoise" baseFrequency="0.12 0.35" numOctaves="2" seed="63" result="n2"/>
<feColorMatrix in="n2" type="matrix" values="1 0 0 0 0 1 0 0 0 0 1 0 0 0 0 0 0 0 0 1" result="g2"/>
<feComposite in="g1" in2="g2" operator="arithmetic" k2="0.65" k3="0.35" k4="0" result="nz0"/>
<feComponentTransfer in="nz0" result="nz"><feFuncR type="table" tableValues="0 1"/><feFuncG type="table" tableValues="0 1"/><feFuncB type="table" tableValues="0 1"/></feComponentTransfer>
<feComposite in="SourceGraphic" in2="nz" operator="arithmetic" k2="1" k3="0.9" k4="-0.450" result="sum"/>
<feComponentTransfer in="sum"><feFuncR type="table" tableValues="0.000 0.000 0.000 0.000 0.000 0.000 0.000 0.000 0.059 0.420 0.502 0.596 0.686 0.784 0.882 0.980 1.000 1.000 1.000 1.000 1.000 1.000 1.000 1.000 1.000 1.000 1.000 1.000 1.000 1.000 1.000 1.000 1.000"/><feFuncG type="table" tableValues="0.000 0.000 0.000 0.000 0.000 0.000 0.000 0.000 0.000 0.000 0.000 0.000 0.000 0.000 0.000 0.000 0.000 0.000 0.000 0.000 0.031 0.184 0.314 0.412 0.510 0.608 0.706 0.792 0.882 0.980 1.000 1.000 1.000"/><feFuncB type="table" tableValues="0.000 0.125 0.251 0.376 0.502 0.627 0.753 0.878 1.000 1.000 1.000 1.000 1.000 1.000 1.000 1.000 0.843 0.698 0.549 0.353 0.000 0.000 0.000 0.000 0.000 0.000 0.000 0.000 0.000 0.000 0.314 0.675 1.000"/><feFuncA type="identity"/></feComponentTransfer>
</filter>
<rect x="1044" y="237" width="491" height="26" fill="url(#gr2c3)" filter="url(#fr2c32)"/>
<path d="M1536 171.5h2M1536 180.5h2M1536 188.5h2M1536 200.5h2M1536 209.5h2M1536 217.5h2M1536 229.5h2M1536 239.5h2M1536 247.5h2M1536 259.5h2M1044.5 264v2M1126.5 264v2M1208.5 264v2M1290.5 264v2M1372.5 264v2M1454.5 264v2" stroke="#000" stroke-width="1" fill="none" shape-rendering="crispEdges"/>
<text x="1043.5" y="278" fill="#000" stroke="#000" textLength="6.98" lengthAdjust="spacingAndGlyphs">0</text>
<text x="1126.5" y="278" text-anchor="middle" fill="#000" stroke="#000" textLength="13.95" lengthAdjust="spacingAndGlyphs">10</text>
<text x="1208.5" y="278" text-anchor="middle" fill="#000" stroke="#000" textLength="13.95" lengthAdjust="spacingAndGlyphs">20</text>
<text x="1290.5" y="278" text-anchor="middle" fill="#000" stroke="#000" textLength="13.24" lengthAdjust="spacingAndGlyphs">t/s</text>
<text x="1372.5" y="278" text-anchor="middle" fill="#000" stroke="#000" textLength="13.95" lengthAdjust="spacingAndGlyphs">40</text>
<text x="1454.5" y="278" text-anchor="middle" fill="#000" stroke="#000" textLength="13.95" lengthAdjust="spacingAndGlyphs">50</text>
<text x="1535.5" y="278" text-anchor="end" fill="#000" stroke="#000" textLength="13.95" lengthAdjust="spacingAndGlyphs">60</text>
<text x="1561.5" y="181.1" text-anchor="end" fill="#000" stroke="#000" textLength="20.23" lengthAdjust="spacingAndGlyphs">20k</text>
<text x="1561.5" y="205.6" text-anchor="end" fill="#000" stroke="#000" textLength="13.25" lengthAdjust="spacingAndGlyphs">2k</text>
<text x="1561.5" y="234.1" text-anchor="end" fill="#000" stroke="#000" textLength="20.93" lengthAdjust="spacingAndGlyphs">200</text>
<text x="1561.5" y="261.4" text-anchor="end" fill="#000" stroke="#000" textLength="13.95" lengthAdjust="spacingAndGlyphs">20</text>
<clipPath id="tr2c3"><rect x="1043" y="150" width="491.9" height="18"/></clipPath>
<g clip-path="url(#tr2c3)"><text y="164" fill="#000" stroke="#000"><tspan x="1046.98" textLength="144.80" lengthAdjust="spacingAndGlyphs">5.-31_10_2013_03_sobre</tspan> <tspan x="1195.43" textLength="26.01" lengthAdjust="spacingAndGlyphs">Pilar</tspan>  <tspan x="1229.55" textLength="14.08" lengthAdjust="spacingAndGlyphs">en</tspan> <tspan x="1247.24" textLength="29.26" lengthAdjust="spacingAndGlyphs">Calle</tspan> <tspan x="1280.11" textLength="23.13" lengthAdjust="spacingAndGlyphs">San</tspan> <tspan x="1307.75" textLength="85.00" lengthAdjust="spacingAndGlyphs">Gregorio_Calle</tspan> <tspan x="1396.33" textLength="31.79" lengthAdjust="spacingAndGlyphs">Perro</tspan> <tspan x="1431.87" textLength="22.40" lengthAdjust="spacingAndGlyphs">Alta</tspan> <tspan x="1458.69" textLength="4.33" lengthAdjust="spacingAndGlyphs">(</tspan> <tspan x="1467.09" textLength="60.10" lengthAdjust="spacingAndGlyphs">0.00-60.00</tspan> <tspan x="1530.81" textLength="3.49" lengthAdjust="spacingAndGlyphs">:</tspan></text></g>
<text x="1561" y="164" text-anchor="end" fill="#000" stroke="#000" textLength="23.12" lengthAdjust="spacingAndGlyphs">f/Hz</text>
<rect x="1437" y="235" width="48" height="18" fill="#fff" shape-rendering="crispEdges"/>
<text x="1438" y="249" fill="#000" stroke="#000" textLength="46.5" lengthAdjust="spacingAndGlyphs">Average</text>
<rect x="0" y="318" width="488" height="115" fill="#000" shape-rendering="crispEdges"/>
<rect x="1" y="319" width="486" height="113" fill="#000080" shape-rendering="crispEdges"/>
<g clip-path="url(#cr3c1)"><path d="M1.5 409V412M2.5 407V414M3.5 402V414M4.5 411V419M5.5 413V423M6.5 414V418M7.5 414V419M8.5 404V419M9.5 400V405M10.5 400V414M11.5 412V417M12.5 409V415M13.5 411V420M14.5 417V420M15.5 415V423M16.5 415V419M17.5 415V419M18.5 404V416M19.5 404V412M20.5 410V412M21.5 410V413M22.5 386V413M23.5 386V419M24.5 405V414M25.5 384V410M26.5 384V406M27.5 398V406M28.5 403V411M29.5 402V419M30.5 413V419M31.5 414V425M32.5 411V425M33.5 411V420M34.5 404V417M35.5 404V413M36.5 410V415M37.5 408V415M38.5 405V411M39.5 405V419M40.5 406V419M41.5 411V419M42.5 402V416M43.5 402V406M44.5 405V412M45.5 408V411M46.5 402V409M47.5 402V418M48.5 410V418M49.5 408V416M50.5 413V418M51.5 399V414M52.5 399V409M53.5 407V409M54.5 405V409M55.5 402V408M56.5 402V409M57.5 406V414M58.5 403V412M59.5 407V412M60.5 402V412M61.5 406V409M62.5 402V409M63.5 402V409M64.5 404V407M65.5 400V407M66.5 395V401M67.5 396V401M68.5 400V404M69.5 396V404M70.5 390V397M71.5 391V397M72.5 388V403M73.5 388V393M74.5 379V397M75.5 379V388M76.5 382V402M77.5 394V402M78.5 393V402M79.5 392V402M80.5 393V396M81.5 395V399M82.5 358V398M83.5 358V401M84.5 400V406M85.5 394V405M86.5 397V403M87.5 399V413M88.5 401V410M89.5 401V407M90.5 397V407M91.5 397V401M92.5 397V413M93.5 386V417M94.5 386V420M95.5 417V420M96.5 414V421M97.5 414V422M98.5 421V424M99.5 415V423M100.5 411V419M101.5 409V419M102.5 412V417M103.5 412V424M104.5 420V431M105.5 420V427M106.5 417V422M107.5 414V419M108.5 403V416M109.5 398V412M110.5 398V403M111.5 395V403M112.5 395V399M113.5 395V418M114.5 408V418M115.5 403V409M116.5 398V410M117.5 405V412M118.5 411V414M119.5 408V414M120.5 406V416M121.5 410V423M122.5 410V419M123.5 414V419M124.5 416V419M125.5 412V421M126.5 412V425M127.5 410V414M128.5 410V419M129.5 409V417M130.5 409V416M131.5 414V421M132.5 407V421M133.5 413V419M134.5 407V422M135.5 421V423M136.5 414V423M137.5 409V417M138.5 401V410M139.5 403V409M140.5 404V412M141.5 401V412M142.5 411V421M143.5 403V414M144.5 401V412M145.5 404V412M146.5 404V409M147.5 401V406M148.5 398V402M149.5 398V414M150.5 410V423M151.5 406V415M152.5 401V407M153.5 402V412M154.5 407V411M155.5 393V411M156.5 393V408M157.5 398V405M158.5 399V408M159.5 407V411M160.5 410V414M161.5 403V414M162.5 408V415M163.5 414V424M164.5 414V423M165.5 414V424M166.5 415V424M167.5 415V421M168.5 410V420M169.5 410V423M170.5 421V424M171.5 423V428M172.5 418V428M173.5 415V422M174.5 415V427M175.5 420V427M176.5 417V426M177.5 411V422M178.5 407V415M179.5 407V425M180.5 414V425M181.5 407V422M182.5 405V410M183.5 398V406M184.5 403V407M185.5 406V414M186.5 402V414M187.5 390V403M188.5 390V401M189.5 375V401M190.5 375V406M191.5 395V409M192.5 395V406M193.5 402V411M194.5 402V415M195.5 407V415M196.5 407V417M197.5 400V412M198.5 401V414M199.5 406V415M200.5 402V415M201.5 400V410M202.5 400V408M203.5 394V408M204.5 394V412M205.5 411V415M206.5 412V419M207.5 410V415M208.5 411V414M209.5 411V415M210.5 408V418M211.5 413V418M212.5 406V415M213.5 400V410M214.5 399V408M215.5 402V408M216.5 402V416M217.5 408V413M218.5 404V410M219.5 399V405M220.5 399V406M221.5 403V408M222.5 399V409M223.5 404V412M224.5 409V413M225.5 405V411M226.5 402V407M227.5 404V407M228.5 403V410M229.5 403V412M230.5 405V414M231.5 405V418M232.5 415V418M233.5 416V422M234.5 413V428M235.5 416V428M236.5 412V422M237.5 412V424M238.5 342V429M239.5 342V421M240.5 420V432M241.5 428V432M242.5 421V429M243.5 421V431M244.5 418V431M245.5 418V422M246.5 418V425M247.5 416V425M248.5 413V417M249.5 413V420M250.5 410V420M251.5 405V411M252.5 405V412M253.5 402V412M254.5 402V405M255.5 399V405M256.5 403V411M257.5 410V419M258.5 413V422M259.5 415V418M260.5 409V416M261.5 408V413M262.5 395V413M263.5 383V408M264.5 383V405M265.5 401V406M266.5 403V413M267.5 412V416M268.5 415V418M269.5 412V418M270.5 412V415M271.5 414V427M272.5 415V427M273.5 415V419M274.5 407V418M275.5 409V415M276.5 403V414M277.5 403V408M278.5 406V413M279.5 412V425M280.5 411V425M281.5 407V415M282.5 408V415M283.5 408V418M284.5 403V418M285.5 393V404M286.5 385V394M287.5 381V390M288.5 381V391M289.5 390V396M290.5 394V398M291.5 394V411M292.5 403V411M293.5 397V406M294.5 405V410M295.5 407V417M296.5 405V417M297.5 406V413M298.5 404V413M299.5 410V414M300.5 408V416M301.5 408V414M302.5 399V411M303.5 394V400M304.5 394V395M305.5 363V395M306.5 363V405M307.5 396V404M308.5 390V397M309.5 390V400M310.5 397V400M311.5 396V400M312.5 396V401M313.5 396V401M314.5 399V402M315.5 399V402M316.5 400V402M317.5 394V401M318.5 394V400M319.5 388V395M320.5 389V393M321.5 359V395M322.5 359V401M323.5 390V399M324.5 319V391M325.5 319V390M326.5 330V384M327.5 381V393M328.5 387V393M329.5 387V393M330.5 388V398M331.5 377V395M332.5 377V399M333.5 383V393M334.5 392V398M335.5 397V399M336.5 395V402M337.5 379V402M338.5 379V404M339.5 395V400M340.5 399V408M341.5 400V408M342.5 402V406M343.5 405V412M344.5 396V412M345.5 399V405M346.5 399V406M347.5 401V406M348.5 404V411M349.5 408V412M350.5 405V413M351.5 403V413M352.5 392V404M353.5 392V404M354.5 394V404M355.5 394V414M356.5 405V414M357.5 401V409M358.5 405V409M359.5 405V416M360.5 411V418M361.5 411V424M362.5 413V420M363.5 410V414M364.5 408V414M365.5 404V409M366.5 404V417M367.5 410V417M368.5 401V413M369.5 403V408M370.5 403V423M371.5 420V423M372.5 416V422M373.5 410V417M374.5 406V414M375.5 403V414M376.5 406V411M377.5 409V414M378.5 412V414M379.5 406V413M380.5 406V414M381.5 410V412M382.5 403V417M383.5 403V413M384.5 404V414M385.5 406V416M386.5 409V416M387.5 407V413M388.5 412V414M389.5 410V413M390.5 403V411M391.5 401V406M392.5 401V409M393.5 408V411M394.5 406V411M395.5 397V407M396.5 397V401M397.5 396V403M398.5 394V403M399.5 392V398M400.5 369V398M401.5 369V397M402.5 384V399M403.5 395V409M404.5 397V402M405.5 397V407M406.5 404V410M407.5 403V409M408.5 395V404M409.5 400V411M410.5 401V411M411.5 398V406M412.5 398V402M413.5 397V403M414.5 395V403M415.5 392V402M416.5 401V418M417.5 409V420M418.5 419V424M419.5 423V431M420.5 419V431M421.5 419V426M422.5 420V429M423.5 415V429M424.5 415V419M425.5 418V422M426.5 420V428M427.5 409V429M428.5 424V429M429.5 424V432M430.5 418V427M431.5 413V419M432.5 413V420M433.5 419V423M434.5 422V427M435.5 422V429M436.5 417V429M437.5 407V418M438.5 411V417M439.5 406V417M440.5 406V412M441.5 409V412M442.5 403V411M443.5 399V407M444.5 402V404M445.5 400V404M446.5 400V414M447.5 402V414M448.5 388V417M449.5 388V411M450.5 399V412M451.5 411V418M452.5 405V420M453.5 417V426M454.5 422V426M455.5 421V429M456.5 415V429M457.5 412V425M458.5 423V431M459.5 425V432M460.5 425V432M461.5 427V431M462.5 419V428M463.5 419V424M464.5 415V424M465.5 416V423M466.5 418V423M467.5 418V431M468.5 419V431M469.5 424V429M470.5 409V428M471.5 418V429M472.5 408V429M473.5 408V416M474.5 404V409M475.5 402V407M476.5 401V411M477.5 408V415M478.5 408V412M479.5 403V410M480.5 403V412M481.5 399V412M482.5 396V405M483.5 395V404M484.5 395V405M485.5 402V407M486.5 406V422" stroke="#00ff80" stroke-width="1" fill="none" shape-rendering="crispEdges"/></g>
<path d="M2 327.5H487M2 346.5H487M2 364.5H487M2 383.5H487M2 401.5H487M2 420.5H487M82.5 319V432M163.5 319V432M245.5 319V432M326.5 319V432M407.5 319V432" stroke="#c0c0c0" stroke-width="1" fill="none" shape-rendering="crispEdges" style="mix-blend-mode:lighten"/>
<path d="M488 327.5h2M488 346.5h2M488 364.5h2M488 383.5h2M488 401.5h2M488 420.5h2M1.5 433v2M82.5 433v2M163.5 433v2M245.5 433v2M326.5 433v2M407.5 433v2" stroke="#000" stroke-width="1" fill="none" shape-rendering="crispEdges"/>
<text x="0.5" y="447" fill="#000" stroke="#000" textLength="6.98" lengthAdjust="spacingAndGlyphs">0</text>
<text x="82.5" y="447" text-anchor="middle" fill="#000" stroke="#000" textLength="13.95" lengthAdjust="spacingAndGlyphs">10</text>
<text x="163.5" y="447" text-anchor="middle" fill="#000" stroke="#000" textLength="13.95" lengthAdjust="spacingAndGlyphs">20</text>
<text x="245.5" y="447" text-anchor="middle" fill="#000" stroke="#000" textLength="13.24" lengthAdjust="spacingAndGlyphs">t/s</text>
<text x="326.5" y="447" text-anchor="middle" fill="#000" stroke="#000" textLength="13.95" lengthAdjust="spacingAndGlyphs">40</text>
<text x="407.5" y="447" text-anchor="middle" fill="#000" stroke="#000" textLength="13.95" lengthAdjust="spacingAndGlyphs">50</text>
<text x="487.5" y="447" text-anchor="end" fill="#000" stroke="#000" textLength="13.95" lengthAdjust="spacingAndGlyphs">60</text>
<text x="518" y="332.3" text-anchor="end" fill="#000" stroke="#000" textLength="13.95" lengthAdjust="spacingAndGlyphs">20</text>
<text x="518" y="351.0" text-anchor="end" fill="#000" stroke="#000" textLength="24.42" lengthAdjust="spacingAndGlyphs">17.5</text>
<text x="518" y="388.1" text-anchor="end" fill="#000" stroke="#000" textLength="24.42" lengthAdjust="spacingAndGlyphs">12.5</text>
<text x="518" y="424.7" text-anchor="end" fill="#000" stroke="#000" textLength="17.44" lengthAdjust="spacingAndGlyphs">7.5</text>
<clipPath id="tr3c1"><rect x="0" y="300" width="454.8" height="18"/></clipPath>
<g clip-path="url(#tr3c1)"><text y="314" fill="#000" stroke="#000"><tspan x="3.98" textLength="144.80" lengthAdjust="spacingAndGlyphs">5.-31_10_2013_03_sobre</tspan> <tspan x="152.43" textLength="26.01" lengthAdjust="spacingAndGlyphs">Pilar</tspan>  <tspan x="186.55" textLength="14.08" lengthAdjust="spacingAndGlyphs">en</tspan> <tspan x="204.24" textLength="29.26" lengthAdjust="spacingAndGlyphs">Calle</tspan> <tspan x="237.11" textLength="23.13" lengthAdjust="spacingAndGlyphs">San</tspan> <tspan x="264.75" textLength="85.00" lengthAdjust="spacingAndGlyphs">Gregorio_Calle</tspan> <tspan x="353.33" textLength="31.79" lengthAdjust="spacingAndGlyphs">Perro</tspan> <tspan x="388.87" textLength="22.40" lengthAdjust="spacingAndGlyphs">Alta</tspan> <tspan x="415.69" textLength="4.33" lengthAdjust="spacingAndGlyphs">(</tspan> <tspan x="424.09" textLength="60.10" lengthAdjust="spacingAndGlyphs">0.00-60.00</tspan> <tspan x="487.81" textLength="3.49" lengthAdjust="spacingAndGlyphs">:</tspan></text></g>
<text x="517" y="314" text-anchor="end" fill="#000" stroke="#000" textLength="59.25" lengthAdjust="spacingAndGlyphs">N/soneGF</text>
<rect x="390" y="402" width="48" height="18" fill="#fff" shape-rendering="crispEdges"/>
<text x="391" y="416" fill="#000" stroke="#000" textLength="46.5" lengthAdjust="spacingAndGlyphs">Average</text>
<rect x="521" y="318" width="493" height="115" fill="#000" shape-rendering="crispEdges"/>
<rect x="522" y="319" width="491" height="113" fill="#000080" shape-rendering="crispEdges"/>
<g clip-path="url(#cr3c2)"><path d="M522.5 431V432M523.5 402V432M524.5 396V403M525.5 391V397M526.5 391V393M527.5 392V393M528.5 392V393M529.5 390V393M530.5 389V391M531.5 389V391M532.5 389V391M533.5 388V390M534.5 388V392M535.5 390V392M536.5 389V391M537.5 389V391M538.5 388V391M539.5 387V389M540.5 387V389M541.5 388V390M542.5 387V390M543.5 387V389M544.5 387V389M545.5 383V388M546.5 383V384M547.5 383V384M548.5 382V384M549.5 382V385M550.5 383V385M551.5 383V385M552.5 381V385M553.5 379V382M554.5 379V387M555.5 386V388M556.5 387V390M557.5 385V390M558.5 385V388M559.5 385V388M560.5 385V387M561.5 386V390M562.5 389V391M563.5 389V391M564.5 389V392M565.5 391V392M566.5 390V392M567.5 387V391M568.5 387V390M569.5 389V390M570.5 389V391M571.5 388V391M572.5 388V389M573.5 387V389M574.5 387V389M575.5 388V390M576.5 388V390M577.5 387V389M578.5 387V391M579.5 390V391M580.5 389V391M581.5 389V391M582.5 388V391M583.5 388V392M584.5 388V392M585.5 388V390M586.5 389V390M587.5 389V393M588.5 392V393M589.5 392V393M590.5 391V393M591.5 389V392M592.5 389V390M593.5 388V390M594.5 388V391M595.5 390V393M596.5 391V393M597.5 391V392M598.5 391V392M599.5 391V392M600.5 391V393M601.5 388V393M602.5 385V389M603.5 382V386M604.5 382V383M605.5 381V383M606.5 381V385M607.5 383V385M608.5 383V385M609.5 384V385M610.5 384V387M611.5 386V387M612.5 386V389M613.5 388V390M614.5 388V390M615.5 388V389M616.5 388V389M617.5 387V389M618.5 387V389M619.5 388V391M620.5 390V396M621.5 393V396M622.5 393V395M623.5 394V396M624.5 391V396M625.5 388V392M626.5 388V390M627.5 388V390M628.5 388V391M629.5 390V391M630.5 390V391M631.5 388V391M632.5 388V390M633.5 389V391M634.5 387V391M635.5 387V391M636.5 390V393M637.5 392V394M638.5 390V394M639.5 390V394M640.5 390V394M641.5 390V391M642.5 390V391M643.5 390V391M644.5 389V391M645.5 389V391M646.5 390V391M647.5 389V391M648.5 389V390M649.5 389V392M650.5 389V392M651.5 386V390M652.5 386V391M653.5 390V391M654.5 390V391M655.5 390V391M656.5 390V392M657.5 391V394M658.5 390V394M659.5 390V393M660.5 390V393M661.5 388V391M662.5 388V389M663.5 388V392M664.5 391V393M665.5 391V393M666.5 389V392M667.5 389V390M668.5 389V391M669.5 389V391M670.5 387V390M671.5 386V388M672.5 386V388M673.5 386V388M674.5 386V387M675.5 382V387M676.5 382V384M677.5 383V385M678.5 384V390M679.5 389V390M680.5 388V390M681.5 388V393M682.5 391V393M683.5 386V392M684.5 385V387M685.5 385V391M686.5 388V391M687.5 388V390M688.5 389V391M689.5 389V391M690.5 389V391M691.5 389V391M692.5 388V390M693.5 388V390M694.5 389V394M695.5 391V394M696.5 387V392M697.5 387V388M698.5 387V389M699.5 387V389M700.5 387V389M701.5 388V389M702.5 388V392M703.5 386V392M704.5 386V387M705.5 386V387M706.5 385V387M707.5 383V386M708.5 383V386M709.5 385V390M710.5 388V390M711.5 388V390M712.5 388V390M713.5 384V389M714.5 381V385M715.5 381V384M716.5 383V387M717.5 386V389M718.5 388V393M719.5 391V393M720.5 386V392M721.5 386V388M722.5 387V392M723.5 387V392M724.5 387V390M725.5 389V391M726.5 389V391M727.5 389V390M728.5 389V393M729.5 389V393M730.5 388V390M731.5 387V389M732.5 387V390M733.5 387V390M734.5 387V388M735.5 387V388M736.5 385V388M737.5 383V386M738.5 383V389M739.5 388V391M740.5 390V393M741.5 388V393M742.5 387V389M743.5 385V388M744.5 385V388M745.5 386V388M746.5 386V389M747.5 388V390M748.5 389V391M749.5 389V391M750.5 389V391M751.5 388V391M752.5 388V391M753.5 389V391M754.5 389V392M755.5 391V392M756.5 391V394M757.5 391V394M758.5 391V394M759.5 385V394M760.5 384V386M761.5 377V385M762.5 370V378M763.5 370V377M764.5 376V381M765.5 380V385M766.5 384V388M767.5 387V389M768.5 388V391M769.5 390V391M770.5 390V393M771.5 391V393M772.5 389V392M773.5 389V390M774.5 389V391M775.5 390V393M776.5 392V394M777.5 390V394M778.5 390V391M779.5 390V392M780.5 391V392M781.5 389V392M782.5 389V391M783.5 389V391M784.5 388V390M785.5 388V390M786.5 388V390M787.5 388V393M788.5 385V393M789.5 385V388M790.5 387V389M791.5 388V389M792.5 388V391M793.5 390V393M794.5 392V393M795.5 392V395M796.5 394V396M797.5 393V396M798.5 391V394M799.5 391V392M800.5 391V392M801.5 391V392M802.5 389V392M803.5 389V390M804.5 389V390M805.5 389V390M806.5 388V390M807.5 386V389M808.5 385V387M809.5 384V386M810.5 384V387M811.5 386V389M812.5 388V390M813.5 389V390M814.5 389V390M815.5 389V391M816.5 390V393M817.5 392V393M818.5 388V393M819.5 388V392M820.5 391V392M821.5 391V393M822.5 392V393M823.5 388V393M824.5 388V390M825.5 389V390M826.5 388V390M827.5 377V389M828.5 368V378M829.5 352V369M830.5 352V362M831.5 361V365M832.5 364V370M833.5 369V373M834.5 372V379M835.5 378V386M836.5 385V391M837.5 389V391M838.5 387V390M839.5 387V389M840.5 388V390M841.5 387V390M842.5 386V388M843.5 382V387M844.5 377V383M845.5 376V378M846.5 372V377M847.5 345V373M848.5 340V346M849.5 320V352M850.5 319V361M851.5 319V367M852.5 350V373M853.5 372V375M854.5 373V375M855.5 373V374M856.5 373V376M857.5 375V378M858.5 377V382M859.5 381V384M860.5 383V384M861.5 383V386M862.5 385V386M863.5 384V386M864.5 384V386M865.5 385V388M866.5 386V388M867.5 386V389M868.5 388V391M869.5 390V394M870.5 392V394M871.5 392V395M872.5 394V395M873.5 392V395M874.5 390V393M875.5 390V392M876.5 391V392M877.5 391V392M878.5 391V392M879.5 390V392M880.5 389V391M881.5 389V390M882.5 389V390M883.5 388V390M884.5 388V389M885.5 388V389M886.5 388V389M887.5 388V392M888.5 391V394M889.5 393V394M890.5 392V394M891.5 388V393M892.5 387V389M893.5 387V390M894.5 389V391M895.5 390V391M896.5 388V391M897.5 388V392M898.5 391V392M899.5 391V394M900.5 393V394M901.5 393V395M902.5 392V395M903.5 392V396M904.5 392V396M905.5 392V394M906.5 393V394M907.5 393V394M908.5 391V394M909.5 390V392M910.5 390V392M911.5 391V394M912.5 389V394M913.5 389V390M914.5 389V391M915.5 390V391M916.5 390V391M917.5 390V392M918.5 388V392M919.5 388V392M920.5 387V392M921.5 386V388M922.5 386V387M923.5 386V388M924.5 387V388M925.5 387V390M926.5 386V390M927.5 384V387M928.5 382V385M929.5 381V383M930.5 381V382M931.5 381V382M932.5 381V383M933.5 382V385M934.5 383V385M935.5 383V384M936.5 381V384M937.5 381V383M938.5 382V383M939.5 382V384M940.5 383V385M941.5 384V387M942.5 386V389M943.5 386V389M944.5 386V390M945.5 389V390M946.5 388V390M947.5 388V393M948.5 392V393M949.5 392V396M950.5 394V396M951.5 394V396M952.5 395V398M953.5 396V398M954.5 394V397M955.5 394V398M956.5 397V400M957.5 399V401M958.5 400V403M959.5 398V403M960.5 398V399M961.5 397V399M962.5 393V398M963.5 393V397M964.5 395V397M965.5 392V396M966.5 392V395M967.5 393V395M968.5 391V394M969.5 391V394M970.5 390V394M971.5 390V392M972.5 390V392M973.5 390V391M974.5 389V391M975.5 388V390M976.5 385V389M977.5 385V390M978.5 389V391M979.5 390V391M980.5 390V392M981.5 391V393M982.5 392V394M983.5 393V394M984.5 392V394M985.5 392V394M986.5 393V394M987.5 393V395M988.5 394V395M989.5 391V395M990.5 391V396M991.5 395V397M992.5 393V397M993.5 393V395M994.5 391V395M995.5 390V392M996.5 390V391M997.5 390V391M998.5 390V394M999.5 392V394M1000.5 392V394M1001.5 393V395M1002.5 391V395M1003.5 391V392M1004.5 391V393M1005.5 389V393M1006.5 389V391M1007.5 390V391M1008.5 390V393M1009.5 392V395M1010.5 394V395M1011.5 392V395M1012.5 391V393" stroke="#00ff80" stroke-width="1" fill="none" shape-rendering="crispEdges"/></g>
<path d="M523 334.5H1013M523 348.5H1013M523 362.5H1013M523 376.5H1013M523 391.5H1013M523 405.5H1013M523 419.5H1013M604.5 319V432M686.5 319V432M768.5 319V432M850.5 319V432M932.5 319V432" stroke="#c0c0c0" stroke-width="1" fill="none" shape-rendering="crispEdges" style="mix-blend-mode:lighten"/>
<path d="M1014 319.5h2M1014 334.5h2M1014 348.5h2M1014 362.5h2M1014 376.5h2M1014 391.5h2M1014 405.5h2M1014 419.5h2M522.5 433v2M604.5 433v2M686.5 433v2M768.5 433v2M850.5 433v2M932.5 433v2" stroke="#000" stroke-width="1" fill="none" shape-rendering="crispEdges"/>
<text x="521.5" y="447" fill="#000" stroke="#000" textLength="6.98" lengthAdjust="spacingAndGlyphs">0</text>
<text x="604.5" y="447" text-anchor="middle" fill="#000" stroke="#000" textLength="13.95" lengthAdjust="spacingAndGlyphs">10</text>
<text x="686.5" y="447" text-anchor="middle" fill="#000" stroke="#000" textLength="13.95" lengthAdjust="spacingAndGlyphs">20</text>
<text x="768.5" y="447" text-anchor="middle" fill="#000" stroke="#000" textLength="13.24" lengthAdjust="spacingAndGlyphs">t/s</text>
<text x="850.5" y="447" text-anchor="middle" fill="#000" stroke="#000" textLength="13.95" lengthAdjust="spacingAndGlyphs">40</text>
<text x="932.5" y="447" text-anchor="middle" fill="#000" stroke="#000" textLength="13.95" lengthAdjust="spacingAndGlyphs">50</text>
<text x="1013.5" y="447" text-anchor="end" fill="#000" stroke="#000" textLength="13.95" lengthAdjust="spacingAndGlyphs">60</text>
<text x="1039.0" y="331.7" text-anchor="end" fill="#000" stroke="#000" textLength="6.98" lengthAdjust="spacingAndGlyphs">4</text>
<text x="1039.0" y="352.7" text-anchor="end" fill="#000" stroke="#000" textLength="6.98" lengthAdjust="spacingAndGlyphs">3</text>
<text x="1039.0" y="381.1" text-anchor="end" fill="#000" stroke="#000" textLength="6.98" lengthAdjust="spacingAndGlyphs">2</text>
<text x="1039.0" y="410.0" text-anchor="end" fill="#000" stroke="#000" textLength="6.98" lengthAdjust="spacingAndGlyphs">1</text>
<text x="1039.0" y="429.3" text-anchor="end" fill="#000" stroke="#000" textLength="6.98" lengthAdjust="spacingAndGlyphs">0</text>
<clipPath id="tr3c2"><rect x="520.5" y="300" width="469.5" height="18"/></clipPath>
<g clip-path="url(#tr3c2)"><text y="314" fill="#000" stroke="#000"><tspan x="524.98" textLength="144.80" lengthAdjust="spacingAndGlyphs">5.-31_10_2013_03_sobre</tspan> <tspan x="673.43" textLength="26.01" lengthAdjust="spacingAndGlyphs">Pilar</tspan>  <tspan x="707.55" textLength="14.08" lengthAdjust="spacingAndGlyphs">en</tspan> <tspan x="725.24" textLength="29.26" lengthAdjust="spacingAndGlyphs">Calle</tspan> <tspan x="758.11" textLength="23.13" lengthAdjust="spacingAndGlyphs">San</tspan> <tspan x="785.75" textLength="85.00" lengthAdjust="spacingAndGlyphs">Gregorio_Calle</tspan> <tspan x="874.33" textLength="31.79" lengthAdjust="spacingAndGlyphs">Perro</tspan> <tspan x="909.87" textLength="22.40" lengthAdjust="spacingAndGlyphs">Alta</tspan> <tspan x="936.69" textLength="4.33" lengthAdjust="spacingAndGlyphs">(</tspan> <tspan x="945.09" textLength="60.10" lengthAdjust="spacingAndGlyphs">0.00-60.00</tspan> <tspan x="1008.81" textLength="3.49" lengthAdjust="spacingAndGlyphs">:</tspan></text></g>
<text x="1038.5" y="314" text-anchor="end" fill="#000" stroke="#000" textLength="45.53" lengthAdjust="spacingAndGlyphs">R/asper</text>
<rect x="915" y="402" width="48" height="18" fill="#fff" shape-rendering="crispEdges"/>
<text x="916" y="416" fill="#000" stroke="#000" textLength="46.5" lengthAdjust="spacingAndGlyphs">Average</text>
<rect x="1043" y="318" width="489" height="115" fill="#000" shape-rendering="crispEdges"/>
<rect x="1044" y="319" width="487" height="113" fill="#000080" shape-rendering="crispEdges"/>
<g clip-path="url(#cr3c3)"><path d="M1044.5 399V401M1045.5 397V409M1046.5 397V413M1047.5 388V398M1048.5 381V389M1049.5 386V398M1050.5 376V396M1051.5 376V397M1052.5 385V415M1053.5 409V429M1054.5 403V429M1055.5 403V414M1056.5 387V413M1057.5 410V423M1058.5 403V423M1059.5 394V425M1060.5 394V410M1061.5 404V414M1062.5 362V405M1063.5 362V416M1064.5 397V410M1065.5 392V399M1066.5 379V399M1067.5 374V408M1068.5 374V389M1069.5 376V397M1070.5 396V414M1071.5 413V415M1072.5 405V419M1073.5 399V419M1074.5 391V405M1075.5 387V405M1076.5 379V405M1077.5 384V413M1078.5 409V414M1079.5 392V414M1080.5 386V414M1081.5 407V425M1082.5 401V425M1083.5 401V413M1084.5 400V410M1085.5 379V401M1086.5 379V393M1087.5 391V398M1088.5 391V398M1089.5 375V398M1090.5 367V378M1091.5 372V396M1092.5 368V396M1093.5 368V385M1094.5 375V385M1095.5 361V399M1096.5 361V403M1097.5 385V410M1098.5 385V391M1099.5 383V391M1100.5 383V399M1101.5 383V393M1102.5 386V399M1103.5 378V399M1104.5 378V391M1105.5 360V390M1106.5 378V390M1107.5 378V401M1108.5 389V401M1109.5 374V393M1110.5 383V394M1111.5 362V394M1112.5 362V389M1113.5 388V403M1114.5 402V413M1115.5 399V415M1116.5 397V415M1117.5 385V403M1118.5 385V393M1119.5 385V393M1120.5 390V392M1121.5 376V391M1122.5 376V398M1123.5 390V400M1124.5 386V400M1125.5 389V392M1126.5 389V395M1127.5 381V395M1128.5 381V390M1129.5 377V387M1130.5 381V414M1131.5 398V414M1132.5 395V408M1133.5 407V413M1134.5 409V415M1135.5 402V411M1136.5 405V430M1137.5 410V432M1138.5 393V432M1139.5 381V405M1140.5 403V410M1141.5 409V426M1142.5 409V414M1143.5 410V419M1144.5 392V411M1145.5 403V411M1146.5 374V404M1147.5 392V398M1148.5 389V408M1149.5 382V390M1150.5 369V394M1151.5 369V399M1152.5 387V399M1153.5 370V403M1154.5 387V411M1155.5 393V423M1156.5 395V423M1157.5 388V403M1158.5 388V409M1159.5 385V409M1160.5 384V397M1161.5 384V403M1162.5 386V403M1163.5 390V406M1164.5 402V411M1165.5 401V422M1166.5 398V422M1167.5 382V422M1168.5 382V398M1169.5 375V385M1170.5 375V391M1171.5 390V399M1172.5 383V399M1173.5 384V398M1174.5 384V398M1175.5 386V398M1176.5 397V413M1177.5 398V413M1178.5 404V418M1179.5 403V419M1180.5 398V419M1181.5 391V405M1182.5 383V403M1183.5 383V393M1184.5 384V406M1185.5 401V409M1186.5 369V409M1187.5 369V377M1188.5 376V400M1189.5 371V400M1190.5 371V396M1191.5 381V397M1192.5 375V384M1193.5 383V398M1194.5 367V399M1195.5 367V404M1196.5 383V404M1197.5 388V405M1198.5 404V415M1199.5 395V415M1200.5 387V401M1201.5 387V406M1202.5 372V392M1203.5 368V373M1204.5 369V393M1205.5 377V389M1206.5 382V400M1207.5 392V410M1208.5 409V419M1209.5 402V419M1210.5 380V403M1211.5 380V414M1212.5 397V414M1213.5 384V414M1214.5 379V402M1215.5 389V402M1216.5 389V406M1217.5 396V406M1218.5 394V397M1219.5 389V401M1220.5 389V394M1221.5 385V394M1222.5 385V413M1223.5 386V403M1224.5 386V411M1225.5 381V409M1226.5 396V400M1227.5 399V412M1228.5 402V415M1229.5 403V420M1230.5 390V408M1231.5 380V400M1232.5 399V403M1233.5 392V404M1234.5 389V393M1235.5 370V400M1236.5 370V392M1237.5 387V394M1238.5 382V393M1239.5 387V396M1240.5 357V392M1241.5 357V388M1242.5 381V390M1243.5 388V393M1244.5 384V404M1245.5 361V404M1246.5 361V391M1247.5 372V391M1248.5 369V386M1249.5 372V384M1250.5 372V379M1251.5 345V378M1252.5 353V371M1253.5 370V385M1254.5 379V387M1255.5 386V397M1256.5 378V397M1257.5 370V381M1258.5 370V398M1259.5 381V398M1260.5 377V398M1261.5 376V389M1262.5 376V389M1263.5 364V389M1264.5 383V390M1265.5 333V390M1266.5 333V394M1267.5 368V394M1268.5 368V401M1269.5 384V401M1270.5 393V399M1271.5 380V400M1272.5 380V394M1273.5 393V398M1274.5 387V395M1275.5 379V388M1276.5 378V394M1277.5 369V394M1278.5 369V404M1279.5 388V404M1280.5 384V392M1281.5 391V395M1282.5 319V412M1283.5 319V410M1284.5 393V407M1285.5 384V394M1286.5 378V395M1287.5 394V404M1288.5 397V400M1289.5 399V414M1290.5 409V419M1291.5 409V426M1292.5 410V422M1293.5 413V422M1294.5 392V414M1295.5 392V407M1296.5 386V407M1297.5 377V387M1298.5 377V386M1299.5 369V386M1300.5 369V381M1301.5 380V403M1302.5 387V397M1303.5 368V397M1304.5 395V412M1305.5 395V408M1306.5 381V396M1307.5 381V392M1308.5 384V396M1309.5 390V408M1310.5 391V408M1311.5 395V411M1312.5 400V412M1313.5 396V412M1314.5 387V405M1315.5 393V405M1316.5 392V413M1317.5 388V393M1318.5 373V396M1319.5 373V396M1320.5 383V391M1321.5 387V397M1322.5 396V411M1323.5 406V411M1324.5 406V412M1325.5 404V412M1326.5 388V405M1327.5 384V403M1328.5 384V395M1329.5 386V387M1330.5 373V387M1331.5 372V388M1332.5 383V388M1333.5 380V391M1334.5 379V402M1335.5 401V404M1336.5 399V402M1337.5 390V401M1338.5 392V396M1339.5 390V410M1340.5 390V410M1341.5 391V396M1342.5 378V394M1343.5 378V393M1344.5 383V393M1345.5 368V384M1346.5 368V410M1347.5 409V417M1348.5 409V416M1349.5 406V418M1350.5 392V409M1351.5 408V414M1352.5 390V412M1353.5 376V391M1354.5 383V399M1355.5 393V413M1356.5 408V413M1357.5 404V409M1358.5 394V405M1359.5 393V419M1360.5 401V419M1361.5 401V410M1362.5 392V402M1363.5 376V394M1364.5 392V405M1365.5 395V405M1366.5 395V421M1367.5 391V421M1368.5 388V392M1369.5 388V403M1370.5 383V396M1371.5 392V395M1372.5 392V411M1373.5 401V415M1374.5 392V415M1375.5 392V400M1376.5 394V407M1377.5 394V403M1378.5 395V403M1379.5 394V402M1380.5 383V397M1381.5 393V397M1382.5 396V419M1383.5 409V419M1384.5 394V411M1385.5 381V405M1386.5 381V392M1387.5 391V395M1388.5 383V410M1389.5 383V402M1390.5 383V402M1391.5 385V394M1392.5 381V395M1393.5 382V395M1394.5 387V403M1395.5 386V406M1396.5 386V400M1397.5 386V400M1398.5 386V415M1399.5 412V416M1400.5 401V416M1401.5 397V409M1402.5 399V422M1403.5 388V400M1404.5 388V406M1405.5 386V402M1406.5 386V396M1407.5 395V412M1408.5 384V412M1409.5 384V392M1410.5 378V392M1411.5 378V387M1412.5 371V387M1413.5 371V391M1414.5 380V386M1415.5 385V406M1416.5 395V406M1417.5 395V397M1418.5 392V397M1419.5 392V401M1420.5 390V401M1421.5 379V404M1422.5 399V404M1423.5 390V403M1424.5 376V393M1425.5 379V397M1426.5 396V408M1427.5 402V408M1428.5 397V408M1429.5 396V413M1430.5 372V397M1431.5 374V385M1432.5 376V389M1433.5 349V402M1434.5 349V413M1435.5 352V391M1436.5 381V387M1437.5 374V387M1438.5 371V389M1439.5 371V396M1440.5 373V396M1441.5 372V382M1442.5 368V373M1443.5 370V400M1444.5 383V400M1445.5 383V401M1446.5 388V407M1447.5 388V395M1448.5 376V401M1449.5 368V384M1450.5 368V377M1451.5 375V378M1452.5 377V410M1453.5 401V419M1454.5 398V412M1455.5 388V405M1456.5 389V398M1457.5 397V418M1458.5 398V414M1459.5 398V426M1460.5 383V402M1461.5 386V394M1462.5 387V404M1463.5 388V403M1464.5 388V403M1465.5 387V403M1466.5 384V392M1467.5 381V389M1468.5 362V382M1469.5 348V368M1470.5 340V360M1471.5 332V359M1472.5 332V349M1473.5 348V351M1474.5 333V355M1475.5 334V367M1476.5 349V367M1477.5 360V374M1478.5 356V370M1479.5 343V357M1480.5 327V352M1481.5 327V376M1482.5 360V382M1483.5 375V382M1484.5 374V382M1485.5 378V391M1486.5 369V391M1487.5 363V375M1488.5 358V366M1489.5 359V394M1490.5 367V391M1491.5 360V391M1492.5 341V361M1493.5 335V343M1494.5 339V351M1495.5 339V342M1496.5 340V354M1497.5 343V354M1498.5 344V364M1499.5 362V375M1500.5 361V371M1501.5 348V375M1502.5 348V367M1503.5 359V384M1504.5 383V401M1505.5 388V401M1506.5 379V389M1507.5 368V387M1508.5 374V391M1509.5 364V391M1510.5 364V381M1511.5 361V379M1512.5 361V380M1513.5 357V374M1514.5 357V373M1515.5 366V371M1516.5 355V368M1517.5 352V360M1518.5 351V374M1519.5 364V374M1520.5 352V374M1521.5 371V379M1522.5 374V391M1523.5 377V391M1524.5 377V381M1525.5 377V391M1526.5 376V391M1527.5 373V382M1528.5 372V383M1529.5 367V383M1530.5 365V370" stroke="#00ff80" stroke-width="1" fill="none" shape-rendering="crispEdges"/></g>
<path d="M1045 328.5H1531M1045 348.5H1531M1045 368.5H1531M1045 388.5H1531M1045 408.5H1531M1045 428.5H1531M1125.5 319V432M1207.5 319V432M1288.5 319V432M1369.5 319V432M1451.5 319V432" stroke="#c0c0c0" stroke-width="1" fill="none" shape-rendering="crispEdges" style="mix-blend-mode:lighten"/>
<path d="M1532 328.5h2M1532 348.5h2M1532 368.5h2M1532 388.5h2M1532 408.5h2M1532 428.5h2M1044.5 433v2M1125.5 433v2M1207.5 433v2M1288.5 433v2M1369.5 433v2M1451.5 433v2" stroke="#000" stroke-width="1" fill="none" shape-rendering="crispEdges"/>
<text x="1043.5" y="447" fill="#000" stroke="#000" textLength="6.98" lengthAdjust="spacingAndGlyphs">0</text>
<text x="1125.5" y="447" text-anchor="middle" fill="#000" stroke="#000" textLength="13.95" lengthAdjust="spacingAndGlyphs">10</text>
<text x="1207.5" y="447" text-anchor="middle" fill="#000" stroke="#000" textLength="13.95" lengthAdjust="spacingAndGlyphs">20</text>
<text x="1288.5" y="447" text-anchor="middle" fill="#000" stroke="#000" textLength="13.24" lengthAdjust="spacingAndGlyphs">t/s</text>
<text x="1369.5" y="447" text-anchor="middle" fill="#000" stroke="#000" textLength="13.95" lengthAdjust="spacingAndGlyphs">40</text>
<text x="1451.5" y="447" text-anchor="middle" fill="#000" stroke="#000" textLength="13.95" lengthAdjust="spacingAndGlyphs">50</text>
<text x="1531.5" y="447" text-anchor="end" fill="#000" stroke="#000" textLength="13.95" lengthAdjust="spacingAndGlyphs">60</text>
<text x="1561.5" y="333.3" text-anchor="end" fill="#000" stroke="#000" textLength="6.98" lengthAdjust="spacingAndGlyphs">3</text>
<text x="1561.5" y="353.2" text-anchor="end" fill="#000" stroke="#000" textLength="24.42" lengthAdjust="spacingAndGlyphs">2.75</text>
<text x="1561.5" y="373.1" text-anchor="end" fill="#000" stroke="#000" textLength="17.44" lengthAdjust="spacingAndGlyphs">2.5</text>
<text x="1561.5" y="393.1" text-anchor="end" fill="#000" stroke="#000" textLength="24.42" lengthAdjust="spacingAndGlyphs">2.25</text>
<text x="1561.5" y="413.0" text-anchor="end" fill="#000" stroke="#000" textLength="6.98" lengthAdjust="spacingAndGlyphs">2</text>
<clipPath id="tr3c3"><rect x="1043" y="300" width="470.9" height="18"/></clipPath>
<g clip-path="url(#tr3c3)"><text y="314" fill="#000" stroke="#000"><tspan x="1046.98" textLength="144.80" lengthAdjust="spacingAndGlyphs">5.-31_10_2013_03_sobre</tspan> <tspan x="1195.43" textLength="26.01" lengthAdjust="spacingAndGlyphs">Pilar</tspan>  <tspan x="1229.55" textLength="14.08" lengthAdjust="spacingAndGlyphs">en</tspan> <tspan x="1247.24" textLength="29.26" lengthAdjust="spacingAndGlyphs">Calle</tspan> <tspan x="1280.11" textLength="23.13" lengthAdjust="spacingAndGlyphs">San</tspan> <tspan x="1307.75" textLength="85.00" lengthAdjust="spacingAndGlyphs">Gregorio_Calle</tspan> <tspan x="1396.33" textLength="31.79" lengthAdjust="spacingAndGlyphs">Perro</tspan> <tspan x="1431.87" textLength="22.40" lengthAdjust="spacingAndGlyphs">Alta</tspan> <tspan x="1458.69" textLength="4.33" lengthAdjust="spacingAndGlyphs">(</tspan> <tspan x="1467.09" textLength="60.10" lengthAdjust="spacingAndGlyphs">0.00-60.00</tspan> <tspan x="1530.81" textLength="3.49" lengthAdjust="spacingAndGlyphs">:</tspan></text></g>
<text x="1561" y="314" text-anchor="end" fill="#000" stroke="#000" textLength="44.08" lengthAdjust="spacingAndGlyphs">S/acum</text>
<rect x="1434" y="402" width="48" height="18" fill="#fff" shape-rendering="crispEdges"/>
<text x="1435" y="416" fill="#000" stroke="#000" textLength="46.5" lengthAdjust="spacingAndGlyphs">Average</text>
<rect x="0" y="469" width="488" height="115" fill="#000" shape-rendering="crispEdges"/>
<rect x="1" y="470" width="486" height="113" fill="#000080" shape-rendering="crispEdges"/>
<g clip-path="url(#cr4c1)"><polyline points="1.5,582.5 2.5,582.5 3.5,582.5 4.5,582.5 5.5,582.5 6.5,565.5 7.5,556.5 8.5,547.5 9.5,525.5 10.5,505.5 11.5,496.5 12.5,490.5 13.5,488.5 14.5,490.5 15.5,484.5 16.5,475.5 17.5,472.5 18.5,472.5 19.5,474.5 20.5,485.5 21.5,493.5 22.5,501.5 23.5,507.5 24.5,513.5 25.5,519.5 26.5,525.5 27.5,530.5 28.5,535.5 29.5,536.5 30.5,538.5 31.5,537.5 32.5,536.5 33.5,536.5 34.5,535.5 35.5,534.5 36.5,534.5 37.5,535.5 38.5,537.5 39.5,538.5 40.5,541.5 41.5,544.5 42.5,547.5 43.5,550.5 44.5,553.5 45.5,556.5 46.5,557.5 47.5,557.5 48.5,558.5 49.5,556.5 50.5,555.5 51.5,553.5 52.5,552.5 53.5,551.5 54.5,552.5 55.5,553.5 56.5,554.5 57.5,557.5 58.5,560.5 59.5,562.5 60.5,563.5 61.5,564.5 62.5,562.5 63.5,559.5 64.5,557.5 65.5,552.5 66.5,547.5 67.5,542.5 68.5,541.5 69.5,540.5 70.5,538.5 71.5,537.5 72.5,536.5 73.5,535.5 74.5,533.5 75.5,533.5 76.5,536.5 77.5,538.5 78.5,541.5 79.5,543.5 80.5,545.5 81.5,548.5 82.5,549.5 83.5,548.5 84.5,547.5 85.5,546.5 86.5,545.5 87.5,543.5 88.5,541.5 89.5,539.5 90.5,537.5 91.5,535.5 92.5,533.5 93.5,531.5 94.5,530.5 95.5,530.5 96.5,530.5 97.5,531.5 98.5,531.5 99.5,530.5 100.5,529.5 101.5,528.5 102.5,527.5 103.5,527.5 104.5,528.5 105.5,530.5 106.5,533.5 107.5,537.5 108.5,542.5 109.5,547.5 110.5,551.5 111.5,556.5 112.5,560.5 113.5,562.5 114.5,564.5 115.5,566.5 116.5,567.5 117.5,567.5 118.5,566.5 119.5,566.5 120.5,566.5 121.5,565.5 122.5,564.5 123.5,563.5 124.5,563.5 125.5,563.5 126.5,563.5 127.5,563.5 128.5,563.5 129.5,563.5 130.5,564.5 131.5,564.5 132.5,565.5 133.5,565.5 134.5,565.5 135.5,564.5 136.5,564.5 137.5,564.5 138.5,565.5 139.5,565.5 140.5,566.5 141.5,566.5 142.5,567.5 143.5,568.5 144.5,569.5 145.5,570.5 146.5,570.5 147.5,570.5 148.5,569.5 149.5,569.5 150.5,569.5 151.5,568.5 152.5,568.5 153.5,568.5 154.5,567.5 155.5,567.5 156.5,566.5 157.5,566.5 158.5,565.5 159.5,563.5 160.5,561.5 161.5,559.5 162.5,557.5 163.5,556.5 164.5,555.5 165.5,555.5 166.5,555.5 167.5,556.5 168.5,557.5 169.5,557.5 170.5,558.5 171.5,558.5 172.5,557.5 173.5,556.5 174.5,555.5 175.5,554.5 176.5,553.5 177.5,553.5 178.5,553.5 179.5,554.5 180.5,555.5 181.5,555.5 182.5,556.5 183.5,556.5 184.5,557.5 185.5,557.5 186.5,558.5 187.5,558.5 188.5,558.5 189.5,559.5 190.5,559.5 191.5,559.5 192.5,560.5 193.5,559.5 194.5,558.5 195.5,557.5 196.5,553.5 197.5,547.5 198.5,542.5 199.5,540.5 200.5,539.5 201.5,538.5 202.5,537.5 203.5,537.5 204.5,539.5 205.5,540.5 206.5,542.5 207.5,543.5 208.5,545.5 209.5,547.5 210.5,550.5 211.5,552.5 212.5,554.5 213.5,556.5 214.5,558.5 215.5,560.5 216.5,561.5 217.5,563.5 218.5,565.5 219.5,566.5 220.5,567.5 221.5,567.5 222.5,568.5 223.5,568.5 224.5,568.5 225.5,567.5 226.5,567.5 227.5,567.5 228.5,566.5 229.5,566.5 230.5,565.5 231.5,564.5 232.5,563.5 233.5,562.5 234.5,562.5 235.5,561.5 236.5,560.5 237.5,560.5 238.5,560.5 239.5,560.5 240.5,561.5 241.5,562.5 242.5,563.5 243.5,564.5 244.5,561.5 245.5,559.5 246.5,550.5 247.5,541.5 248.5,535.5 249.5,529.5 250.5,527.5 251.5,526.5 252.5,525.5 253.5,527.5 254.5,529.5 255.5,532.5 256.5,534.5 257.5,537.5 258.5,540.5 259.5,541.5 260.5,543.5 261.5,544.5 262.5,545.5 263.5,547.5 264.5,549.5 265.5,551.5 266.5,554.5 267.5,556.5 268.5,558.5 269.5,559.5 270.5,561.5 271.5,561.5 272.5,561.5 273.5,560.5 274.5,558.5 275.5,557.5 276.5,555.5 277.5,554.5 278.5,553.5 279.5,552.5 280.5,551.5 281.5,550.5 282.5,550.5 283.5,550.5 284.5,550.5 285.5,551.5 286.5,553.5 287.5,555.5 288.5,557.5 289.5,559.5 290.5,561.5 291.5,564.5 292.5,566.5 293.5,568.5 294.5,568.5 295.5,568.5 296.5,568.5 297.5,567.5 298.5,566.5 299.5,564.5 300.5,563.5 301.5,561.5 302.5,560.5 303.5,559.5 304.5,558.5 305.5,558.5 306.5,557.5 307.5,557.5 308.5,556.5 309.5,556.5 310.5,556.5 311.5,556.5 312.5,556.5 313.5,556.5 314.5,556.5 315.5,557.5 316.5,557.5 317.5,557.5 318.5,557.5 319.5,557.5 320.5,557.5 321.5,557.5 322.5,557.5 323.5,558.5 324.5,559.5 325.5,559.5 326.5,558.5 327.5,553.5 328.5,548.5 329.5,544.5 330.5,540.5 331.5,536.5 332.5,533.5 333.5,529.5 334.5,527.5 335.5,527.5 336.5,528.5 337.5,528.5 338.5,529.5 339.5,530.5 340.5,531.5 341.5,531.5 342.5,532.5 343.5,533.5 344.5,533.5 345.5,531.5 346.5,529.5 347.5,528.5 348.5,526.5 349.5,524.5 350.5,522.5 351.5,520.5 352.5,518.5 353.5,516.5 354.5,516.5 355.5,518.5 356.5,520.5 357.5,522.5 358.5,526.5 359.5,533.5 360.5,540.5 361.5,545.5 362.5,547.5 363.5,548.5 364.5,548.5 365.5,546.5 366.5,545.5 367.5,543.5 368.5,542.5 369.5,542.5 370.5,542.5 371.5,542.5 372.5,541.5 373.5,541.5 374.5,541.5 375.5,541.5 376.5,541.5 377.5,543.5 378.5,544.5 379.5,546.5 380.5,548.5 381.5,549.5 382.5,551.5 383.5,553.5 384.5,554.5 385.5,556.5 386.5,557.5 387.5,556.5 388.5,554.5 389.5,553.5 390.5,552.5 391.5,551.5 392.5,551.5 393.5,551.5 394.5,552.5 395.5,552.5 396.5,553.5 397.5,553.5 398.5,553.5 399.5,552.5 400.5,552.5 401.5,552.5 402.5,551.5 403.5,551.5 404.5,550.5 405.5,548.5 406.5,546.5 407.5,544.5 408.5,541.5 409.5,538.5 410.5,534.5 411.5,531.5 412.5,529.5 413.5,531.5 414.5,534.5 415.5,536.5 416.5,538.5 417.5,540.5 418.5,542.5 419.5,544.5 420.5,546.5 421.5,547.5 422.5,548.5 423.5,550.5 424.5,551.5 425.5,552.5 426.5,553.5 427.5,554.5 428.5,555.5 429.5,556.5 430.5,556.5 431.5,557.5 432.5,558.5 433.5,558.5 434.5,559.5 435.5,559.5 436.5,559.5 437.5,560.5 438.5,560.5 439.5,561.5 440.5,561.5 441.5,560.5 442.5,560.5 443.5,560.5 444.5,560.5 445.5,560.5 446.5,559.5 447.5,559.5 448.5,558.5 449.5,558.5 450.5,557.5 451.5,556.5 452.5,556.5 453.5,557.5 454.5,557.5 455.5,557.5 456.5,558.5 457.5,557.5 458.5,557.5 459.5,556.5 460.5,556.5 461.5,555.5 462.5,555.5 463.5,556.5 464.5,557.5 465.5,558.5 466.5,559.5 467.5,560.5 468.5,563.5 469.5,565.5 470.5,567.5 471.5,570.5 472.5,572.5 473.5,573.5 474.5,573.5 475.5,573.5 476.5,573.5 477.5,573.5 478.5,573.5 479.5,573.5 480.5,573.5 481.5,574.5 482.5,573.5 483.5,572.5 484.5,571.5 485.5,570.5 486.5,570.5" fill="none" stroke="#00ff80" stroke-width="1" shape-rendering="crispEdges"/></g>
<path d="M2 478.5H487M2 496.5H487M2 514.5H487M2 531.5H487M2 549.5H487M2 567.5H487M82.5 470V583M163.5 470V583M245.5 470V583M326.5 470V583M407.5 470V583" stroke="#c0c0c0" stroke-width="1" fill="none" shape-rendering="crispEdges" style="mix-blend-mode:lighten"/>
<path d="M488 478.5h2M488 496.5h2M488 514.5h2M488 531.5h2M488 549.5h2M488 567.5h2M1.5 584v2M82.5 584v2M163.5 584v2M245.5 584v2M326.5 584v2M407.5 584v2" stroke="#000" stroke-width="1" fill="none" shape-rendering="crispEdges"/>
<text x="0.5" y="598" fill="#000" stroke="#000" textLength="6.98" lengthAdjust="spacingAndGlyphs">0</text>
<text x="82.5" y="598" text-anchor="middle" fill="#000" stroke="#000" textLength="13.95" lengthAdjust="spacingAndGlyphs">10</text>
<text x="163.5" y="598" text-anchor="middle" fill="#000" stroke="#000" textLength="13.95" lengthAdjust="spacingAndGlyphs">20</text>
<text x="245.5" y="598" text-anchor="middle" fill="#000" stroke="#000" textLength="13.24" lengthAdjust="spacingAndGlyphs">t/s</text>
<text x="326.5" y="598" text-anchor="middle" fill="#000" stroke="#000" textLength="13.95" lengthAdjust="spacingAndGlyphs">40</text>
<text x="407.5" y="598" text-anchor="middle" fill="#000" stroke="#000" textLength="13.95" lengthAdjust="spacingAndGlyphs">50</text>
<text x="487.5" y="598" text-anchor="end" fill="#000" stroke="#000" textLength="13.95" lengthAdjust="spacingAndGlyphs">60</text>
<text x="518" y="483.3" text-anchor="end" fill="#000" stroke="#000" textLength="24.40" lengthAdjust="spacingAndGlyphs">60m</text>
<text x="518" y="518.9" text-anchor="end" fill="#000" stroke="#000" textLength="24.40" lengthAdjust="spacingAndGlyphs">40m</text>
<text x="518" y="554.0" text-anchor="end" fill="#000" stroke="#000" textLength="24.40" lengthAdjust="spacingAndGlyphs">20m</text>
<text x="518" y="580.3" text-anchor="end" fill="#000" stroke="#000" textLength="6.98" lengthAdjust="spacingAndGlyphs">0</text>
<clipPath id="tr4c1"><rect x="0" y="451" width="463.4" height="18"/></clipPath>
<g clip-path="url(#tr4c1)"><text y="465" fill="#000" stroke="#000"><tspan x="3.98" textLength="144.80" lengthAdjust="spacingAndGlyphs">5.-31_10_2013_03_sobre</tspan> <tspan x="152.43" textLength="26.01" lengthAdjust="spacingAndGlyphs">Pilar</tspan>  <tspan x="186.55" textLength="14.08" lengthAdjust="spacingAndGlyphs">en</tspan> <tspan x="204.24" textLength="29.26" lengthAdjust="spacingAndGlyphs">Calle</tspan> <tspan x="237.11" textLength="23.13" lengthAdjust="spacingAndGlyphs">San</tspan> <tspan x="264.75" textLength="85.00" lengthAdjust="spacingAndGlyphs">Gregorio_Calle</tspan> <tspan x="353.33" textLength="31.79" lengthAdjust="spacingAndGlyphs">Perro</tspan> <tspan x="388.87" textLength="22.40" lengthAdjust="spacingAndGlyphs">Alta</tspan> <tspan x="415.69" textLength="4.33" lengthAdjust="spacingAndGlyphs">(</tspan> <tspan x="424.09" textLength="60.10" lengthAdjust="spacingAndGlyphs">0.00-60.00</tspan> <tspan x="487.81" textLength="3.49" lengthAdjust="spacingAndGlyphs">:</tspan></text></g>
<text x="517" y="465" text-anchor="end" fill="#000" stroke="#000" textLength="50.56" lengthAdjust="spacingAndGlyphs">Fls./vacil</text>
<rect x="390" y="553" width="48" height="18" fill="#fff" shape-rendering="crispEdges"/>
<text x="391" y="567" fill="#000" stroke="#000" textLength="46.5" lengthAdjust="spacingAndGlyphs">Average</text>
<rect x="521" y="469" width="493" height="115" fill="#000" shape-rendering="crispEdges"/>
<rect x="522" y="470" width="491" height="113" fill="#000080" shape-rendering="crispEdges"/>
<g clip-path="url(#cr4c2)"><polyline points="522.5,490.5 523.5,488.5 524.5,485.5 525.5,493.5 526.5,500.5 527.5,503.5 528.5,503.5 529.5,510.5 530.5,507.5 531.5,501.5 532.5,504.5 533.5,502.5 534.5,505.5 535.5,503.5 536.5,502.5 537.5,517.5 538.5,516.5 539.5,517.5 540.5,517.5 541.5,522.5 542.5,524.5 543.5,528.5 544.5,537.5 545.5,543.5 546.5,540.5 547.5,535.5 548.5,537.5 549.5,543.5 550.5,542.5 551.5,537.5 552.5,535.5 553.5,529.5 554.5,522.5 555.5,519.5 556.5,513.5 557.5,510.5 558.5,506.5 559.5,505.5 560.5,502.5 561.5,508.5 562.5,512.5 563.5,506.5 564.5,505.5 565.5,513.5 566.5,519.5 567.5,518.5 568.5,517.5 569.5,510.5 570.5,500.5 571.5,495.5 572.5,490.5 573.5,487.5 574.5,492.5 575.5,499.5 576.5,507.5 577.5,514.5 578.5,511.5 579.5,505.5 580.5,504.5 581.5,497.5 582.5,496.5 583.5,498.5 584.5,498.5 585.5,502.5 586.5,503.5 587.5,505.5 588.5,502.5 589.5,501.5 590.5,501.5 591.5,502.5 592.5,499.5 593.5,502.5 594.5,504.5 595.5,507.5 596.5,515.5 597.5,528.5 598.5,540.5 599.5,540.5 600.5,536.5 601.5,537.5 602.5,536.5 603.5,538.5 604.5,544.5 605.5,555.5 606.5,551.5 607.5,545.5 608.5,539.5 609.5,535.5 610.5,528.5 611.5,524.5 612.5,518.5 613.5,515.5 614.5,513.5 615.5,515.5 616.5,530.5 617.5,538.5 618.5,531.5 619.5,524.5 620.5,515.5 621.5,508.5 622.5,505.5 623.5,501.5 624.5,498.5 625.5,495.5 626.5,494.5 627.5,493.5 628.5,490.5 629.5,489.5 630.5,486.5 631.5,490.5 632.5,492.5 633.5,500.5 634.5,508.5 635.5,513.5 636.5,518.5 637.5,515.5 638.5,511.5 639.5,508.5 640.5,502.5 641.5,500.5 642.5,497.5 643.5,496.5 644.5,494.5 645.5,500.5 646.5,507.5 647.5,512.5 648.5,517.5 649.5,518.5 650.5,517.5 651.5,516.5 652.5,512.5 653.5,507.5 654.5,503.5 655.5,500.5 656.5,500.5 657.5,501.5 658.5,501.5 659.5,499.5 660.5,499.5 661.5,498.5 662.5,496.5 663.5,496.5 664.5,497.5 665.5,496.5 666.5,494.5 667.5,495.5 668.5,494.5 669.5,493.5 670.5,492.5 671.5,491.5 672.5,491.5 673.5,496.5 674.5,499.5 675.5,503.5 676.5,509.5 677.5,514.5 678.5,519.5 679.5,521.5 680.5,514.5 681.5,508.5 682.5,499.5 683.5,494.5 684.5,487.5 685.5,482.5 686.5,477.5 687.5,473.5 688.5,473.5 689.5,490.5 690.5,499.5 691.5,498.5 692.5,497.5 693.5,496.5 694.5,494.5 695.5,497.5 696.5,498.5 697.5,495.5 698.5,492.5 699.5,488.5 700.5,484.5 701.5,482.5 702.5,479.5 703.5,482.5 704.5,486.5 705.5,488.5 706.5,491.5 707.5,492.5 708.5,494.5 709.5,494.5 710.5,500.5 711.5,504.5 712.5,510.5 713.5,518.5 714.5,528.5 715.5,527.5 716.5,520.5 717.5,514.5 718.5,508.5 719.5,506.5 720.5,504.5 721.5,502.5 722.5,499.5 723.5,497.5 724.5,493.5 725.5,487.5 726.5,484.5 727.5,481.5 728.5,485.5 729.5,491.5 730.5,497.5 731.5,502.5 732.5,507.5 733.5,510.5 734.5,515.5 735.5,519.5 736.5,523.5 737.5,520.5 738.5,513.5 739.5,509.5 740.5,504.5 741.5,503.5 742.5,501.5 743.5,499.5 744.5,497.5 745.5,497.5 746.5,494.5 747.5,491.5 748.5,495.5 749.5,497.5 750.5,502.5 751.5,501.5 752.5,499.5 753.5,498.5 754.5,495.5 755.5,495.5 756.5,499.5 757.5,500.5 758.5,501.5 759.5,502.5 760.5,505.5 761.5,540.5 762.5,557.5 763.5,565.5 764.5,559.5 765.5,550.5 766.5,543.5 767.5,531.5 768.5,522.5 769.5,514.5 770.5,505.5 771.5,499.5 772.5,496.5 773.5,492.5 774.5,489.5 775.5,488.5 776.5,489.5 777.5,490.5 778.5,490.5 779.5,486.5 780.5,485.5 781.5,484.5 782.5,481.5 783.5,479.5 784.5,480.5 785.5,479.5 786.5,482.5 787.5,507.5 788.5,513.5 789.5,516.5 790.5,519.5 791.5,523.5 792.5,524.5 793.5,529.5 794.5,530.5 795.5,527.5 796.5,525.5 797.5,522.5 798.5,516.5 799.5,516.5 800.5,513.5 801.5,513.5 802.5,510.5 803.5,505.5 804.5,502.5 805.5,498.5 806.5,498.5 807.5,498.5 808.5,502.5 809.5,517.5 810.5,530.5 811.5,527.5 812.5,524.5 813.5,519.5 814.5,518.5 815.5,514.5 816.5,514.5 817.5,512.5 818.5,511.5 819.5,510.5 820.5,506.5 821.5,502.5 822.5,499.5 823.5,496.5 824.5,496.5 825.5,499.5 826.5,503.5 827.5,516.5 828.5,529.5 829.5,550.5 830.5,564.5 831.5,561.5 832.5,554.5 833.5,549.5 834.5,546.5 835.5,548.5 836.5,549.5 837.5,551.5 838.5,544.5 839.5,539.5 840.5,535.5 841.5,529.5 842.5,527.5 843.5,525.5 844.5,520.5 845.5,520.5 846.5,524.5 847.5,545.5 848.5,563.5 849.5,575.5 850.5,577.5 851.5,556.5 852.5,545.5 853.5,547.5 854.5,549.5 855.5,549.5 856.5,543.5 857.5,540.5 858.5,535.5 859.5,528.5 860.5,523.5 861.5,519.5 862.5,519.5 863.5,533.5 864.5,539.5 865.5,535.5 866.5,529.5 867.5,526.5 868.5,532.5 869.5,530.5 870.5,525.5 871.5,516.5 872.5,514.5 873.5,511.5 874.5,506.5 875.5,503.5 876.5,507.5 877.5,513.5 878.5,514.5 879.5,519.5 880.5,519.5 881.5,515.5 882.5,512.5 883.5,508.5 884.5,508.5 885.5,508.5 886.5,507.5 887.5,507.5 888.5,511.5 889.5,513.5 890.5,513.5 891.5,507.5 892.5,504.5 893.5,500.5 894.5,497.5 895.5,492.5 896.5,490.5 897.5,488.5 898.5,493.5 899.5,501.5 900.5,505.5 901.5,512.5 902.5,513.5 903.5,511.5 904.5,507.5 905.5,504.5 906.5,500.5 907.5,498.5 908.5,494.5 909.5,492.5 910.5,488.5 911.5,487.5 912.5,491.5 913.5,495.5 914.5,499.5 915.5,501.5 916.5,506.5 917.5,509.5 918.5,507.5 919.5,506.5 920.5,502.5 921.5,499.5 922.5,498.5 923.5,498.5 924.5,505.5 925.5,516.5 926.5,535.5 927.5,547.5 928.5,549.5 929.5,543.5 930.5,526.5 931.5,518.5 932.5,516.5 933.5,510.5 934.5,504.5 935.5,504.5 936.5,511.5 937.5,514.5 938.5,518.5 939.5,520.5 940.5,521.5 941.5,517.5 942.5,513.5 943.5,509.5 944.5,507.5 945.5,501.5 946.5,496.5 947.5,489.5 948.5,486.5 949.5,480.5 950.5,479.5 951.5,480.5 952.5,483.5 953.5,484.5 954.5,493.5 955.5,505.5 956.5,519.5 957.5,522.5 958.5,520.5 959.5,520.5 960.5,517.5 961.5,513.5 962.5,512.5 963.5,507.5 964.5,504.5 965.5,502.5 966.5,506.5 967.5,509.5 968.5,509.5 969.5,507.5 970.5,506.5 971.5,501.5 972.5,497.5 973.5,492.5 974.5,502.5 975.5,518.5 976.5,522.5 977.5,517.5 978.5,514.5 979.5,511.5 980.5,506.5 981.5,500.5 982.5,494.5 983.5,491.5 984.5,488.5 985.5,488.5 986.5,484.5 987.5,484.5 988.5,480.5 989.5,478.5 990.5,474.5 991.5,478.5 992.5,479.5 993.5,485.5 994.5,483.5 995.5,483.5 996.5,482.5 997.5,478.5 998.5,480.5 999.5,481.5 1000.5,484.5 1001.5,485.5 1002.5,487.5 1003.5,490.5 1004.5,489.5 1005.5,490.5 1006.5,492.5 1007.5,495.5 1008.5,500.5 1009.5,505.5 1010.5,502.5 1011.5,500.5 1012.5,498.5" fill="none" stroke="#00ff80" stroke-width="1" shape-rendering="crispEdges"/></g>
<path d="M523 475.5H1013M523 490.5H1013M523 504.5H1013M523 518.5H1013M523 533.5H1013M523 547.5H1013M523 561.5H1013M523 576.5H1013M604.5 470V583M686.5 470V583M768.5 470V583M850.5 470V583M932.5 470V583" stroke="#c0c0c0" stroke-width="1" fill="none" shape-rendering="crispEdges" style="mix-blend-mode:lighten"/>
<path d="M1014 475.5h2M1014 490.5h2M1014 504.5h2M1014 518.5h2M1014 533.5h2M1014 547.5h2M1014 561.5h2M1014 576.5h2M522.5 584v2M604.5 584v2M686.5 584v2M768.5 584v2M850.5 584v2M932.5 584v2" stroke="#000" stroke-width="1" fill="none" shape-rendering="crispEdges"/>
<text x="521.5" y="598" fill="#000" stroke="#000" textLength="6.98" lengthAdjust="spacingAndGlyphs">0</text>
<text x="604.5" y="598" text-anchor="middle" fill="#000" stroke="#000" textLength="13.95" lengthAdjust="spacingAndGlyphs">10</text>
<text x="686.5" y="598" text-anchor="middle" fill="#000" stroke="#000" textLength="13.95" lengthAdjust="spacingAndGlyphs">20</text>
<text x="768.5" y="598" text-anchor="middle" fill="#000" stroke="#000" textLength="13.24" lengthAdjust="spacingAndGlyphs">t/s</text>
<text x="850.5" y="598" text-anchor="middle" fill="#000" stroke="#000" textLength="13.95" lengthAdjust="spacingAndGlyphs">40</text>
<text x="932.5" y="598" text-anchor="middle" fill="#000" stroke="#000" textLength="13.95" lengthAdjust="spacingAndGlyphs">50</text>
<text x="1013.5" y="598" text-anchor="end" fill="#000" stroke="#000" textLength="13.95" lengthAdjust="spacingAndGlyphs">60</text>
<text x="1039.0" y="482.1" text-anchor="end" fill="#000" stroke="#000" textLength="13.95" lengthAdjust="spacingAndGlyphs">75</text>
<text x="1039.0" y="509.0" text-anchor="end" fill="#000" stroke="#000" textLength="13.95" lengthAdjust="spacingAndGlyphs">65</text>
<text x="1039.0" y="537.9" text-anchor="end" fill="#000" stroke="#000" textLength="13.95" lengthAdjust="spacingAndGlyphs">55</text>
<text x="1039.0" y="566.0" text-anchor="end" fill="#000" stroke="#000" textLength="13.95" lengthAdjust="spacingAndGlyphs">45</text>
<clipPath id="tr4c2"><rect x="520.5" y="451" width="483.9" height="18"/></clipPath>
<g clip-path="url(#tr4c2)"><text y="465" fill="#000" stroke="#000"><tspan x="524.98" textLength="144.80" lengthAdjust="spacingAndGlyphs">5.-31_10_2013_03_sobre</tspan> <tspan x="673.43" textLength="26.01" lengthAdjust="spacingAndGlyphs">Pilar</tspan>  <tspan x="707.55" textLength="14.08" lengthAdjust="spacingAndGlyphs">en</tspan> <tspan x="725.24" textLength="29.26" lengthAdjust="spacingAndGlyphs">Calle</tspan> <tspan x="758.11" textLength="23.13" lengthAdjust="spacingAndGlyphs">San</tspan> <tspan x="785.75" textLength="85.00" lengthAdjust="spacingAndGlyphs">Gregorio_Calle</tspan> <tspan x="874.33" textLength="31.79" lengthAdjust="spacingAndGlyphs">Perro</tspan> <tspan x="909.87" textLength="22.40" lengthAdjust="spacingAndGlyphs">Alta</tspan> <tspan x="936.69" textLength="4.33" lengthAdjust="spacingAndGlyphs">(</tspan> <tspan x="945.09" textLength="60.10" lengthAdjust="spacingAndGlyphs">0.00-60.00</tspan> <tspan x="1008.81" textLength="3.49" lengthAdjust="spacingAndGlyphs">:</tspan></text></g>
<text x="1038.5" y="465" text-anchor="end" fill="#000" stroke="#000" textLength="31.08" lengthAdjust="spacingAndGlyphs">SII/%</text>
<rect x="915" y="553" width="48" height="18" fill="#fff" shape-rendering="crispEdges"/>
<text x="916" y="567" fill="#000" stroke="#000" textLength="46.5" lengthAdjust="spacingAndGlyphs">Average</text>
<rect x="1043" y="469" width="489" height="115" fill="#000" shape-rendering="crispEdges"/>
<rect x="1044" y="470" width="487" height="113" fill="#000080" shape-rendering="crispEdges"/>
<g clip-path="url(#cr4c3)"><path d="M1044.5 571V581M1045.5 563V581M1046.5 546V583M1047.5 553V578M1048.5 554V578M1049.5 554V575M1050.5 559V577M1051.5 548V571M1052.5 535V571M1053.5 548V572M1054.5 552V576M1055.5 557V578M1056.5 534V576M1057.5 527V583M1058.5 493V583M1059.5 493V583M1060.5 558V583M1061.5 561V583M1062.5 555V583M1063.5 501V571M1064.5 501V575M1065.5 550V573M1066.5 554V576M1067.5 553V576M1068.5 540V570M1069.5 565V583M1070.5 562V583M1071.5 531V573M1072.5 561V572M1073.5 542V569M1074.5 561V569M1075.5 561V572M1076.5 551V571M1077.5 558V577M1078.5 571V583M1079.5 522V583M1080.5 536V573M1081.5 552V575M1082.5 552V583M1083.5 571V583M1084.5 555V583M1085.5 563V583M1086.5 563V579M1087.5 505V579M1088.5 505V576M1089.5 561V582M1090.5 570V583M1091.5 565V583M1092.5 574V581M1093.5 543V578M1094.5 543V581M1095.5 496V582M1096.5 496V578M1097.5 529V561M1098.5 554V562M1099.5 539V555M1100.5 549V562M1101.5 507V569M1102.5 507V576M1103.5 551V582M1104.5 512V583M1105.5 512V577M1106.5 525V549M1107.5 525V565M1108.5 545V572M1109.5 541V572M1110.5 545V568M1111.5 552V560M1112.5 548V567M1113.5 552V577M1114.5 545V571M1115.5 560V582M1116.5 482V582M1117.5 482V579M1118.5 576V579M1119.5 553V582M1120.5 560V583M1121.5 550V583M1122.5 550V577M1123.5 554V578M1124.5 541V564M1125.5 541V582M1126.5 567V578M1127.5 574V583M1128.5 582V583M1129.5 563V583M1130.5 563V583M1131.5 563V583M1132.5 560V583M1133.5 572V583M1134.5 556V581M1135.5 556V583M1136.5 573V583M1137.5 565V583M1138.5 556V580M1139.5 570V582M1140.5 540V582M1141.5 540V583M1142.5 582V583M1143.5 559V583M1144.5 582V583M1145.5 580V583M1146.5 576V583M1147.5 580V583M1148.5 570V581M1149.5 556V571M1150.5 567V577M1151.5 570V583M1152.5 568V583M1153.5 568V583M1154.5 568V583M1155.5 577V583M1156.5 528V583M1157.5 541V583M1158.5 558V583M1159.5 567V583M1160.5 556V583M1161.5 572V583M1162.5 548V575M1163.5 548V568M1164.5 540V567M1165.5 537V565M1166.5 537V567M1167.5 563V568M1168.5 562V573M1169.5 555V569M1170.5 568V577M1171.5 564V583M1172.5 573V583M1173.5 515V583M1174.5 515V581M1175.5 572V583M1176.5 572V583M1177.5 562V583M1178.5 529V577M1179.5 529V570M1180.5 554V583M1181.5 552V583M1182.5 552V583M1183.5 533V573M1184.5 551V575M1185.5 551V583M1186.5 550V583M1187.5 550V583M1188.5 541V583M1189.5 562V578M1190.5 567V578M1191.5 511V583M1192.5 511V581M1193.5 552V583M1194.5 581V583M1195.5 577V583M1196.5 558V578M1197.5 555V575M1198.5 570V583M1199.5 565V583M1200.5 573V583M1201.5 571V583M1202.5 571V583M1203.5 562V583M1204.5 577V583M1205.5 567V583M1206.5 566V581M1207.5 550V576M1208.5 550V566M1209.5 470V577M1210.5 470V577M1211.5 550V572M1212.5 550V567M1213.5 549V570M1214.5 566V583M1215.5 567V583M1216.5 553V583M1217.5 553V583M1218.5 572V583M1219.5 572V583M1220.5 553V583M1221.5 544V583M1222.5 544V583M1223.5 566V583M1224.5 564V583M1225.5 564V583M1226.5 575V583M1227.5 575V583M1228.5 563V583M1229.5 563V583M1230.5 566V583M1231.5 564V583M1232.5 566V583M1233.5 560V569M1234.5 549V578M1235.5 559V583M1236.5 582V583M1237.5 570V583M1238.5 557V578M1239.5 557V579M1240.5 562V583M1241.5 578V583M1242.5 544V583M1243.5 536V566M1244.5 545V570M1245.5 553V572M1246.5 557V568M1247.5 542V568M1248.5 525V562M1249.5 522V565M1250.5 549V571M1251.5 549V574M1252.5 554V573M1253.5 557V578M1254.5 557V580M1255.5 510V577M1256.5 510V573M1257.5 544V573M1258.5 544V570M1259.5 557V578M1260.5 556V580M1261.5 538V580M1262.5 565V579M1263.5 568V583M1264.5 560V577M1265.5 563V577M1266.5 563V576M1267.5 571V583M1268.5 551V583M1269.5 536V577M1270.5 564V579M1271.5 563V579M1272.5 541V579M1273.5 556V576M1274.5 575V583M1275.5 567V583M1276.5 559V581M1277.5 559V577M1278.5 571V583M1279.5 571V583M1280.5 560V583M1281.5 560V583M1282.5 567V583M1283.5 522V583M1284.5 522V583M1285.5 578V583M1286.5 578V583M1287.5 582V583M1288.5 582V583M1289.5 582V583M1290.5 544V583M1291.5 566V583M1292.5 575V583M1293.5 559V583M1294.5 559V583M1295.5 546V580M1296.5 560V577M1297.5 561V569M1298.5 506V563M1299.5 515V579M1300.5 565V579M1301.5 564V573M1302.5 563V580M1303.5 563V579M1304.5 559V579M1305.5 569V583M1306.5 508V583M1307.5 565V583M1308.5 577V583M1309.5 568V583M1310.5 571V581M1311.5 565V572M1312.5 565V571M1313.5 570V583M1314.5 560V583M1315.5 560V583M1316.5 568V583M1317.5 562V583M1318.5 552V583M1319.5 510V583M1320.5 510V576M1321.5 554V577M1322.5 534V569M1323.5 554V569M1324.5 557V581M1325.5 567V581M1326.5 553V580M1327.5 539V573M1328.5 565V574M1329.5 539V581M1330.5 571V583M1331.5 570V583M1332.5 545V572M1333.5 551V560M1334.5 551V564M1335.5 513V563M1336.5 554V564M1337.5 528V570M1338.5 569V583M1339.5 571V583M1340.5 559V583M1341.5 576V583M1342.5 505V583M1343.5 581V583M1344.5 551V583M1345.5 561V583M1346.5 582V583M1347.5 575V583M1348.5 568V583M1349.5 561V578M1350.5 563V583M1351.5 552V583M1352.5 570V583M1353.5 574V583M1354.5 513V583M1355.5 513V583M1356.5 571V583M1357.5 571V583M1358.5 552V583M1359.5 552V579M1360.5 578V583M1361.5 580V583M1362.5 580V583M1363.5 582V583M1364.5 571V583M1365.5 560V583M1366.5 564V579M1367.5 545V578M1368.5 545V583M1369.5 565V583M1370.5 576V583M1371.5 554V583M1372.5 554V576M1373.5 575V583M1374.5 573V583M1375.5 544V579M1376.5 562V579M1377.5 558V579M1378.5 558V567M1379.5 559V577M1380.5 563V583M1381.5 570V583M1382.5 581V583M1383.5 530V583M1384.5 575V583M1385.5 575V580M1386.5 548V583M1387.5 560V583M1388.5 572V583M1389.5 545V582M1390.5 572V583M1391.5 576V583M1392.5 574V581M1393.5 510V575M1394.5 510V579M1395.5 549V572M1396.5 549V575M1397.5 558V583M1398.5 574V583M1399.5 574V583M1400.5 555V583M1401.5 497V583M1402.5 497V583M1403.5 553V573M1404.5 568V580M1405.5 548V580M1406.5 571V583M1407.5 564V579M1408.5 555V577M1409.5 553V577M1410.5 522V569M1411.5 522V559M1412.5 557V570M1413.5 539V563M1414.5 526V563M1415.5 525V563M1416.5 546V566M1417.5 534V572M1418.5 519V570M1419.5 545V569M1420.5 500V581M1421.5 500V582M1422.5 559V578M1423.5 567V583M1424.5 573V583M1425.5 582V583M1426.5 582V583M1427.5 581V583M1428.5 566V583M1429.5 565V583M1430.5 556V583M1431.5 552V580M1432.5 557V580M1433.5 541V573M1434.5 541V577M1435.5 561V578M1436.5 561V578M1437.5 509V578M1438.5 509V583M1439.5 579V583M1440.5 576V583M1441.5 530V583M1442.5 580V583M1443.5 582V583M1444.5 578V583M1445.5 567V583M1446.5 565V583M1447.5 564V583M1448.5 559V583M1449.5 559V583M1450.5 569V583M1451.5 472V581M1452.5 544V583M1453.5 541V583M1454.5 542V570M1455.5 555V573M1456.5 549V578M1457.5 562V583M1458.5 564V583M1459.5 547V583M1460.5 553V574M1461.5 561V583M1462.5 575V583M1463.5 568V581M1464.5 558V573M1465.5 567V583M1466.5 541V580M1467.5 550V561M1468.5 557V574M1469.5 557V583M1470.5 557V583M1471.5 568V583M1472.5 564V583M1473.5 491V580M1474.5 491V583M1475.5 519V583M1476.5 481V583M1477.5 481V582M1478.5 555V573M1479.5 563V582M1480.5 569V583M1481.5 582V583M1482.5 570V583M1483.5 549V574M1484.5 555V582M1485.5 555V573M1486.5 558V576M1487.5 541V566M1488.5 557V564M1489.5 548V567M1490.5 553V568M1491.5 560V578M1492.5 568V583M1493.5 578V583M1494.5 582V583M1495.5 582V583M1496.5 582V583M1497.5 582V583M1498.5 568V583M1499.5 568V575M1500.5 533V575M1501.5 547V575M1502.5 541V575M1503.5 548V567M1504.5 559V576M1505.5 559V569M1506.5 549V576M1507.5 563V583M1508.5 568V583M1509.5 568V583M1510.5 569V583M1511.5 574V583M1512.5 560V583M1513.5 531V566M1514.5 531V564M1515.5 561V566M1516.5 539V573M1517.5 555V574M1518.5 546V583M1519.5 566V578M1520.5 547V581M1521.5 547V582M1522.5 553V575M1523.5 572V582M1524.5 572V583M1525.5 558V583M1526.5 542V577M1527.5 542V583M1528.5 568V583M1529.5 532V583M1530.5 553V583" stroke="#00ff80" stroke-width="1" fill="none" shape-rendering="crispEdges"/></g>
<path d="M1045 476.5H1531M1045 492.5H1531M1045 507.5H1531M1045 523.5H1531M1045 538.5H1531M1045 554.5H1531M1045 569.5H1531M1125.5 470V583M1207.5 470V583M1288.5 470V583M1369.5 470V583M1451.5 470V583" stroke="#c0c0c0" stroke-width="1" fill="none" shape-rendering="crispEdges" style="mix-blend-mode:lighten"/>
<path d="M1532 476.5h2M1532 492.5h2M1532 507.5h2M1532 523.5h2M1532 538.5h2M1532 554.5h2M1532 569.5h2M1044.5 584v2M1125.5 584v2M1207.5 584v2M1288.5 584v2M1369.5 584v2M1451.5 584v2" stroke="#000" stroke-width="1" fill="none" shape-rendering="crispEdges"/>
<text x="1043.5" y="598" fill="#000" stroke="#000" textLength="6.98" lengthAdjust="spacingAndGlyphs">0</text>
<text x="1125.5" y="598" text-anchor="middle" fill="#000" stroke="#000" textLength="13.95" lengthAdjust="spacingAndGlyphs">10</text>
<text x="1207.5" y="598" text-anchor="middle" fill="#000" stroke="#000" textLength="13.95" lengthAdjust="spacingAndGlyphs">20</text>
<text x="1288.5" y="598" text-anchor="middle" fill="#000" stroke="#000" textLength="13.24" lengthAdjust="spacingAndGlyphs">t/s</text>
<text x="1369.5" y="598" text-anchor="middle" fill="#000" stroke="#000" textLength="13.95" lengthAdjust="spacingAndGlyphs">40</text>
<text x="1451.5" y="598" text-anchor="middle" fill="#000" stroke="#000" textLength="13.95" lengthAdjust="spacingAndGlyphs">50</text>
<text x="1531.5" y="598" text-anchor="end" fill="#000" stroke="#000" textLength="13.95" lengthAdjust="spacingAndGlyphs">60</text>
<text x="1561.5" y="481.1" text-anchor="end" fill="#000" stroke="#000" textLength="24.42" lengthAdjust="spacingAndGlyphs">0.35</text>
<text x="1561.5" y="512.2" text-anchor="end" fill="#000" stroke="#000" textLength="24.42" lengthAdjust="spacingAndGlyphs">0.25</text>
<text x="1561.5" y="543.4" text-anchor="end" fill="#000" stroke="#000" textLength="24.42" lengthAdjust="spacingAndGlyphs">0.15</text>
<text x="1561.5" y="573.9" text-anchor="end" fill="#000" stroke="#000" textLength="24.40" lengthAdjust="spacingAndGlyphs">50m</text>
<clipPath id="tr4c3"><rect x="1043" y="451" width="476.0" height="18"/></clipPath>
<g clip-path="url(#tr4c3)"><text y="465" fill="#000" stroke="#000"><tspan x="1046.98" textLength="144.80" lengthAdjust="spacingAndGlyphs">5.-31_10_2013_03_sobre</tspan> <tspan x="1195.43" textLength="26.01" lengthAdjust="spacingAndGlyphs">Pilar</tspan>  <tspan x="1229.55" textLength="14.08" lengthAdjust="spacingAndGlyphs">en</tspan> <tspan x="1247.24" textLength="29.26" lengthAdjust="spacingAndGlyphs">Calle</tspan> <tspan x="1280.11" textLength="23.13" lengthAdjust="spacingAndGlyphs">San</tspan> <tspan x="1307.75" textLength="85.00" lengthAdjust="spacingAndGlyphs">Gregorio_Calle</tspan> <tspan x="1396.33" textLength="31.79" lengthAdjust="spacingAndGlyphs">Perro</tspan> <tspan x="1431.87" textLength="22.40" lengthAdjust="spacingAndGlyphs">Alta</tspan> <tspan x="1458.69" textLength="4.33" lengthAdjust="spacingAndGlyphs">(</tspan> <tspan x="1467.09" textLength="60.10" lengthAdjust="spacingAndGlyphs">0.00-60.00</tspan> <tspan x="1530.81" textLength="3.49" lengthAdjust="spacingAndGlyphs">:</tspan></text></g>
<text x="1561" y="465" text-anchor="end" fill="#000" stroke="#000" textLength="39.03" lengthAdjust="spacingAndGlyphs">Ton./tu</text>
<rect x="1434" y="553" width="48" height="18" fill="#fff" shape-rendering="crispEdges"/>
<text x="1435" y="567" fill="#000" stroke="#000" textLength="46.5" lengthAdjust="spacingAndGlyphs">Average</text>
<rect x="521" y="282" width="10" height="18" fill="rgb(0,0,0)" shape-rendering="crispEdges"/>
<rect x="531" y="282" width="11" height="18" fill="rgb(0,0,22)" shape-rendering="crispEdges"/>
<rect x="542" y="282" width="10" height="18" fill="rgb(0,0,44)" shape-rendering="crispEdges"/>
<rect x="552" y="282" width="10" height="18" fill="rgb(0,0,65)" shape-rendering="crispEdges"/>
<rect x="562" y="282" width="10" height="18" fill="rgb(0,0,87)" shape-rendering="crispEdges"/>
<rect x="572" y="282" width="11" height="18" fill="rgb(0,0,109)" shape-rendering="crispEdges"/>
<rect x="583" y="282" width="10" height="18" fill="rgb(0,0,131)" shape-rendering="crispEdges"/>
<rect x="593" y="282" width="10" height="18" fill="rgb(0,0,153)" shape-rendering="crispEdges"/>
<rect x="603" y="282" width="10" height="18" fill="rgb(0,0,174)" shape-rendering="crispEdges"/>
<rect x="613" y="282" width="11" height="18" fill="rgb(0,0,196)" shape-rendering="crispEdges"/>
<rect x="624" y="282" width="10" height="18" fill="rgb(0,0,218)" shape-rendering="crispEdges"/>
<rect x="634" y="282" width="10" height="18" fill="rgb(0,0,240)" shape-rendering="crispEdges"/>
<rect x="644" y="282" width="11" height="18" fill="rgb(79,0,255)" shape-rendering="crispEdges"/>
<rect x="655" y="282" width="10" height="18" fill="rgb(104,0,255)" shape-rendering="crispEdges"/>
<rect x="665" y="282" width="10" height="18" fill="rgb(118,0,255)" shape-rendering="crispEdges"/>
<rect x="675" y="282" width="10" height="18" fill="rgb(133,0,255)" shape-rendering="crispEdges"/>
<rect x="685" y="282" width="11" height="18" fill="rgb(149,0,255)" shape-rendering="crispEdges"/>
<rect x="696" y="282" width="10" height="18" fill="rgb(165,0,255)" shape-rendering="crispEdges"/>
<rect x="706" y="282" width="10" height="18" fill="rgb(181,0,255)" shape-rendering="crispEdges"/>
<rect x="716" y="282" width="10" height="18" fill="rgb(198,0,255)" shape-rendering="crispEdges"/>
<rect x="726" y="282" width="11" height="18" fill="rgb(215,0,255)" shape-rendering="crispEdges"/>
<rect x="737" y="282" width="10" height="18" fill="rgb(232,0,255)" shape-rendering="crispEdges"/>
<rect x="747" y="282" width="10" height="18" fill="rgb(249,0,255)" shape-rendering="crispEdges"/>
<rect x="757" y="282" width="11" height="18" fill="rgb(255,0,232)" shape-rendering="crispEdges"/>
<rect x="768" y="282" width="10" height="18" fill="rgb(255,0,202)" shape-rendering="crispEdges"/>
<rect x="778" y="282" width="10" height="18" fill="rgb(255,0,177)" shape-rendering="crispEdges"/>
<rect x="788" y="282" width="10" height="18" fill="rgb(255,0,151)" shape-rendering="crispEdges"/>
<rect x="798" y="282" width="11" height="18" fill="rgb(255,0,121)" shape-rendering="crispEdges"/>
<rect x="809" y="282" width="10" height="18" fill="rgb(255,0,87)" shape-rendering="crispEdges"/>
<rect x="819" y="282" width="10" height="18" fill="rgb(255,0,7)" shape-rendering="crispEdges"/>
<rect x="829" y="282" width="10" height="18" fill="rgb(255,25,0)" shape-rendering="crispEdges"/>
<rect x="839" y="282" width="11" height="18" fill="rgb(255,50,0)" shape-rendering="crispEdges"/>
<rect x="850" y="282" width="10" height="18" fill="rgb(255,73,0)" shape-rendering="crispEdges"/>
<rect x="860" y="282" width="10" height="18" fill="rgb(255,92,0)" shape-rendering="crispEdges"/>
<rect x="870" y="282" width="10" height="18" fill="rgb(255,109,0)" shape-rendering="crispEdges"/>
<rect x="880" y="282" width="11" height="18" fill="rgb(255,126,0)" shape-rendering="crispEdges"/>
<rect x="891" y="282" width="10" height="18" fill="rgb(255,143,0)" shape-rendering="crispEdges"/>
<rect x="901" y="282" width="10" height="18" fill="rgb(255,160,0)" shape-rendering="crispEdges"/>
<rect x="911" y="282" width="11" height="18" fill="rgb(255,177,0)" shape-rendering="crispEdges"/>
<rect x="922" y="282" width="10" height="18" fill="rgb(255,192,0)" shape-rendering="crispEdges"/>
<rect x="932" y="282" width="10" height="18" fill="rgb(255,208,0)" shape-rendering="crispEdges"/>
<rect x="942" y="282" width="10" height="18" fill="rgb(255,223,0)" shape-rendering="crispEdges"/>
<rect x="952" y="282" width="11" height="18" fill="rgb(255,240,0)" shape-rendering="crispEdges"/>
<rect x="963" y="282" width="10" height="18" fill="rgb(255,255,8)" shape-rendering="crispEdges"/>
<rect x="973" y="282" width="10" height="18" fill="rgb(255,255,76)" shape-rendering="crispEdges"/>
<rect x="983" y="282" width="10" height="18" fill="rgb(255,255,141)" shape-rendering="crispEdges"/>
<rect x="993" y="282" width="11" height="18" fill="rgb(255,255,200)" shape-rendering="crispEdges"/>
<rect x="1004" y="282" width="10" height="18" fill="rgb(255,255,255)" shape-rendering="crispEdges"/>
<path d="M521 281.5H1015M1014.5 281V300" stroke="#000" fill="none" shape-rendering="crispEdges"/>
<path d="M583.5 282v1M645.5 282v1M706.5 282v1M768.5 282v1M830.5 282v1M891.5 282v1M953.5 282v1" stroke="#333" fill="none" shape-rendering="crispEdges"/>
<text x="521" y="296" fill="#fff" stroke="#fff" textLength="18.13" lengthAdjust="spacingAndGlyphs">-10</text>
<text x="583.1" y="296" text-anchor="middle" fill="#fff" stroke="#fff" textLength="6.98" lengthAdjust="spacingAndGlyphs">0</text>
<text x="644.8" y="296" text-anchor="middle" fill="#fff" stroke="#fff" textLength="13.95" lengthAdjust="spacingAndGlyphs">10</text>
<text x="706.4" y="296" text-anchor="middle" fill="#fff" stroke="#fff" textLength="13.95" lengthAdjust="spacingAndGlyphs">20</text>
<text x="766.5" y="296" text-anchor="middle" fill="#fff" stroke="#fff" textLength="56.49" lengthAdjust="spacingAndGlyphs">L/dB[SPL]</text>
<text x="829.6" y="296" text-anchor="middle" fill="#fff" stroke="#fff" textLength="13.95" lengthAdjust="spacingAndGlyphs">40</text>
<text x="891.2" y="296" text-anchor="middle" fill="#000" stroke="#000" textLength="13.95" lengthAdjust="spacingAndGlyphs">50</text>
<text x="952.9" y="296" text-anchor="middle" fill="#000" stroke="#000" textLength="13.95" lengthAdjust="spacingAndGlyphs">60</text>
<text x="1014" y="296" text-anchor="end" fill="#000" stroke="#000" textLength="13.95" lengthAdjust="spacingAndGlyphs">70</text>
<rect x="1043" y="282" width="10" height="18" fill="rgb(0,0,0)" shape-rendering="crispEdges"/>
<rect x="1053" y="282" width="11" height="18" fill="rgb(0,0,22)" shape-rendering="crispEdges"/>
<rect x="1064" y="282" width="10" height="18" fill="rgb(0,0,44)" shape-rendering="crispEdges"/>
<rect x="1074" y="282" width="10" height="18" fill="rgb(0,0,65)" shape-rendering="crispEdges"/>
<rect x="1084" y="282" width="10" height="18" fill="rgb(0,0,87)" shape-rendering="crispEdges"/>
<rect x="1094" y="282" width="11" height="18" fill="rgb(0,0,109)" shape-rendering="crispEdges"/>
<rect x="1105" y="282" width="10" height="18" fill="rgb(0,0,131)" shape-rendering="crispEdges"/>
<rect x="1115" y="282" width="10" height="18" fill="rgb(0,0,153)" shape-rendering="crispEdges"/>
<rect x="1125" y="282" width="10" height="18" fill="rgb(0,0,174)" shape-rendering="crispEdges"/>
<rect x="1135" y="282" width="11" height="18" fill="rgb(0,0,196)" shape-rendering="crispEdges"/>
<rect x="1146" y="282" width="10" height="18" fill="rgb(0,0,218)" shape-rendering="crispEdges"/>
<rect x="1156" y="282" width="10" height="18" fill="rgb(0,0,240)" shape-rendering="crispEdges"/>
<rect x="1166" y="282" width="11" height="18" fill="rgb(79,0,255)" shape-rendering="crispEdges"/>
<rect x="1177" y="282" width="10" height="18" fill="rgb(104,0,255)" shape-rendering="crispEdges"/>
<rect x="1187" y="282" width="10" height="18" fill="rgb(118,0,255)" shape-rendering="crispEdges"/>
<rect x="1197" y="282" width="10" height="18" fill="rgb(133,0,255)" shape-rendering="crispEdges"/>
<rect x="1207" y="282" width="11" height="18" fill="rgb(149,0,255)" shape-rendering="crispEdges"/>
<rect x="1218" y="282" width="10" height="18" fill="rgb(165,0,255)" shape-rendering="crispEdges"/>
<rect x="1228" y="282" width="10" height="18" fill="rgb(181,0,255)" shape-rendering="crispEdges"/>
<rect x="1238" y="282" width="10" height="18" fill="rgb(198,0,255)" shape-rendering="crispEdges"/>
<rect x="1248" y="282" width="11" height="18" fill="rgb(215,0,255)" shape-rendering="crispEdges"/>
<rect x="1259" y="282" width="10" height="18" fill="rgb(232,0,255)" shape-rendering="crispEdges"/>
<rect x="1269" y="282" width="10" height="18" fill="rgb(249,0,255)" shape-rendering="crispEdges"/>
<rect x="1279" y="282" width="11" height="18" fill="rgb(255,0,232)" shape-rendering="crispEdges"/>
<rect x="1290" y="282" width="10" height="18" fill="rgb(255,0,202)" shape-rendering="crispEdges"/>
<rect x="1300" y="282" width="10" height="18" fill="rgb(255,0,177)" shape-rendering="crispEdges"/>
<rect x="1310" y="282" width="10" height="18" fill="rgb(255,0,151)" shape-rendering="crispEdges"/>
<rect x="1320" y="282" width="11" height="18" fill="rgb(255,0,121)" shape-rendering="crispEdges"/>
<rect x="1331" y="282" width="10" height="18" fill="rgb(255,0,87)" shape-rendering="crispEdges"/>
<rect x="1341" y="282" width="10" height="18" fill="rgb(255,0,7)" shape-rendering="crispEdges"/>
<rect x="1351" y="282" width="10" height="18" fill="rgb(255,25,0)" shape-rendering="crispEdges"/>
<rect x="1361" y="282" width="11" height="18" fill="rgb(255,50,0)" shape-rendering="crispEdges"/>
<rect x="1372" y="282" width="10" height="18" fill="rgb(255,73,0)" shape-rendering="crispEdges"/>
<rect x="1382" y="282" width="10" height="18" fill="rgb(255,92,0)" shape-rendering="crispEdges"/>
<rect x="1392" y="282" width="10" height="18" fill="rgb(255,109,0)" shape-rendering="crispEdges"/>
<rect x="1402" y="282" width="11" height="18" fill="rgb(255,126,0)" shape-rendering="crispEdges"/>
<rect x="1413" y="282" width="10" height="18" fill="rgb(255,143,0)" shape-rendering="crispEdges"/>
<rect x="1423" y="282" width="10" height="18" fill="rgb(255,160,0)" shape-rendering="crispEdges"/>
<rect x="1433" y="282" width="11" height="18" fill="rgb(255,177,0)" shape-rendering="crispEdges"/>
<rect x="1444" y="282" width="10" height="18" fill="rgb(255,192,0)" shape-rendering="crispEdges"/>
<rect x="1454" y="282" width="10" height="18" fill="rgb(255,208,0)" shape-rendering="crispEdges"/>
<rect x="1464" y="282" width="10" height="18" fill="rgb(255,223,0)" shape-rendering="crispEdges"/>
<rect x="1474" y="282" width="11" height="18" fill="rgb(255,240,0)" shape-rendering="crispEdges"/>
<rect x="1485" y="282" width="10" height="18" fill="rgb(255,255,8)" shape-rendering="crispEdges"/>
<rect x="1495" y="282" width="10" height="18" fill="rgb(255,255,76)" shape-rendering="crispEdges"/>
<rect x="1505" y="282" width="10" height="18" fill="rgb(255,255,141)" shape-rendering="crispEdges"/>
<rect x="1515" y="282" width="11" height="18" fill="rgb(255,255,200)" shape-rendering="crispEdges"/>
<rect x="1526" y="282" width="10" height="18" fill="rgb(255,255,255)" shape-rendering="crispEdges"/>
<path d="M1043 281.5H1537M1536.5 281V300" stroke="#000" fill="none" shape-rendering="crispEdges"/>
<path d="M1105.5 282v1M1167.5 282v1M1228.5 282v1M1290.5 282v1M1352.5 282v1M1413.5 282v1M1475.5 282v1" stroke="#333" fill="none" shape-rendering="crispEdges"/>
<text x="1043" y="296" fill="#fff" stroke="#fff" textLength="6.98" lengthAdjust="spacingAndGlyphs">0</text>
<text x="1105.1" y="296" text-anchor="middle" fill="#fff" stroke="#fff" textLength="13.95" lengthAdjust="spacingAndGlyphs">10</text>
<text x="1166.8" y="296" text-anchor="middle" fill="#fff" stroke="#fff" textLength="13.95" lengthAdjust="spacingAndGlyphs">20</text>
<text x="1228.4" y="296" text-anchor="middle" fill="#fff" stroke="#fff" textLength="13.95" lengthAdjust="spacingAndGlyphs">30</text>
<text x="1288.5" y="296" text-anchor="middle" fill="#fff" stroke="#fff" textLength="56.49" lengthAdjust="spacingAndGlyphs">L/dB[SPL]</text>
<text x="1351.6" y="296" text-anchor="middle" fill="#fff" stroke="#fff" textLength="13.95" lengthAdjust="spacingAndGlyphs">50</text>
<text x="1413.2" y="296" text-anchor="middle" fill="#000" stroke="#000" textLength="13.95" lengthAdjust="spacingAndGlyphs">60</text>
<text x="1474.9" y="296" text-anchor="middle" fill="#000" stroke="#000" textLength="13.95" lengthAdjust="spacingAndGlyphs">70</text>
<text x="1536" y="296" text-anchor="end" fill="#000" stroke="#000" textLength="13.95" lengthAdjust="spacingAndGlyphs">80</text>
<rect x="0" y="0" width="521" height="10" fill="#800000" shape-rendering="crispEdges"/>
<rect x="0" y="10" width="521" height="9" fill="#000" shape-rendering="crispEdges"/>
<rect x="1" y="11" width="512" height="7" fill="#000080" shape-rendering="crispEdges"/>
<path d="M1.5 15V16M2.5 15V16M3.5 15V16M4.5 13V16M5.5 15V16M6.5 15V17M7.5 15V17M8.5 15V16M9.5 12V17M10.5 14V16M11.5 15V17M12.5 15V17M13.5 15V17M14.5 12V16M15.5 14V17M16.5 15V16M17.5 14V16M18.5 15V16M19.5 14V16M20.5 15V16M21.5 15V17M22.5 15V17M23.5 14V17M24.5 15V16M25.5 12V16M26.5 15V16M27.5 15V16M28.5 15V16M29.5 15V17M30.5 15V17M31.5 15V16M32.5 12V16M33.5 15V16M34.5 12V17M35.5 14V16M36.5 14V16M37.5 15V16M38.5 15V16M39.5 15V16M40.5 14V16M41.5 15V16M42.5 13V16M43.5 14V16M44.5 15V16M45.5 15V16M46.5 15V16M47.5 15V17M48.5 14V17M49.5 15V16M50.5 14V17M51.5 15V16M52.5 15V17M53.5 15V16M54.5 15V16M55.5 13V16M56.5 13V16M57.5 15V17M58.5 15V16M59.5 15V16M60.5 14V16M61.5 14V16M62.5 14V16M63.5 15V16M64.5 15V16M65.5 15V16M66.5 15V17M67.5 15V17M68.5 15V16M69.5 15V16M70.5 15V16M71.5 14V17M72.5 15V16M73.5 15V16M74.5 15V16M75.5 15V16M76.5 15V16M77.5 14V16M78.5 15V16M79.5 14V16M80.5 15V16M81.5 12V16M82.5 14V16M83.5 15V16M84.5 15V16M85.5 15V16M86.5 15V16M87.5 15V16M88.5 15V16M89.5 15V16M90.5 15V16M91.5 14V16M92.5 15V16M93.5 15V16M94.5 15V17M95.5 15V16M96.5 15V16M97.5 15V16M98.5 15V16M99.5 13V17M100.5 15V16M101.5 14V16M102.5 15V17M103.5 15V17M104.5 13V17M105.5 15V17M106.5 14V17M107.5 15V16M108.5 15V16M109.5 14V16M110.5 12V16M111.5 14V16M112.5 14V16M113.5 15V17M114.5 15V17M115.5 15V16M116.5 15V16M117.5 15V16M118.5 15V16M119.5 15V17M120.5 15V16M121.5 15V16M122.5 15V16M123.5 15V17M124.5 14V16M125.5 15V17M126.5 15V16M127.5 15V16M128.5 14V17M129.5 15V16M130.5 15V16M131.5 15V17M132.5 15V16M133.5 15V16M134.5 15V16M135.5 14V16M136.5 14V16M137.5 15V17M138.5 15V16M139.5 12V16M140.5 14V16M141.5 15V17M142.5 14V17M143.5 15V17M144.5 15V16M145.5 15V16M146.5 15V17M147.5 15V16M148.5 15V16M149.5 14V16M150.5 15V16M151.5 15V16M152.5 13V17M153.5 15V16M154.5 15V16M155.5 12V16M156.5 15V16M157.5 15V16M158.5 15V16M159.5 15V16M160.5 15V17M161.5 14V16M162.5 13V16M163.5 15V16M164.5 14V16M165.5 15V17M166.5 15V16M167.5 15V16M168.5 14V16M169.5 15V17M170.5 14V16M171.5 15V16M172.5 13V16M173.5 15V16M174.5 15V17M175.5 15V17M176.5 15V16M177.5 15V17M178.5 14V16M179.5 14V16M180.5 15V17M181.5 15V17M182.5 14V16M183.5 14V17M184.5 15V16M185.5 15V17M186.5 15V16M187.5 15V16M188.5 15V16M189.5 13V16M190.5 14V16M191.5 15V16M192.5 15V16M193.5 14V16M194.5 14V16M195.5 15V17M196.5 14V16M197.5 15V17M198.5 15V16M199.5 14V16M200.5 14V17M201.5 15V17M202.5 15V16M203.5 15V16M204.5 13V16M205.5 13V17M206.5 15V16M207.5 14V17M208.5 15V16M209.5 15V17M210.5 15V16M211.5 14V16M212.5 15V16M213.5 15V17M214.5 15V16M215.5 15V16M216.5 15V16M217.5 15V16M218.5 15V16M219.5 14V17M220.5 14V17M221.5 15V16M222.5 15V17M223.5 15V16M224.5 15V16M225.5 15V17M226.5 14V17M227.5 15V16M228.5 15V17M229.5 14V17M230.5 14V17M231.5 14V16M232.5 13V16M233.5 15V16M234.5 15V16M235.5 15V16M236.5 14V16M237.5 14V16M238.5 15V17M239.5 14V17M240.5 14V17M241.5 15V16M242.5 15V16M243.5 15V17M244.5 15V16M245.5 14V17M246.5 15V16M247.5 15V16M248.5 15V17M249.5 13V16M250.5 15V17M251.5 15V16M252.5 15V16M253.5 14V17M254.5 15V16M255.5 15V17M256.5 14V17M257.5 15V17M258.5 14V16M259.5 15V17M260.5 13V16M261.5 14V16M262.5 15V16M263.5 14V16M264.5 14V16M265.5 15V16M266.5 15V17M267.5 12V16M268.5 15V16M269.5 15V16M270.5 15V16M271.5 15V16M272.5 15V17M273.5 14V16M274.5 14V16M275.5 15V16M276.5 14V17M277.5 14V17M278.5 15V16M279.5 14V17M280.5 15V17M281.5 14V17M282.5 15V17M283.5 15V16M284.5 15V16M285.5 15V16M286.5 15V16M287.5 15V16M288.5 15V16M289.5 15V16M290.5 14V16M291.5 15V17M292.5 13V17M293.5 14V16M294.5 14V17M295.5 15V16M296.5 13V17M297.5 14V16M298.5 15V16M299.5 15V17M300.5 15V16M301.5 15V17M302.5 15V16M303.5 15V17M304.5 15V17M305.5 15V16M306.5 15V16M307.5 14V16M308.5 15V16M309.5 15V16M310.5 15V16M311.5 15V16M312.5 15V17M313.5 15V16M314.5 13V16M315.5 13V16M316.5 15V16M317.5 15V17M318.5 14V17M319.5 15V16M320.5 15V17M321.5 15V17M322.5 15V16M323.5 15V16M324.5 15V17M325.5 15V16M326.5 13V17M327.5 14V16M328.5 15V17M329.5 15V16M330.5 15V16M331.5 15V16M332.5 15V17M333.5 15V16M334.5 14V16M335.5 15V17M336.5 15V16M337.5 15V16M338.5 15V16M339.5 15V16M340.5 15V16M341.5 15V16M342.5 15V16M343.5 15V16M344.5 14V17M345.5 14V16M346.5 15V16M347.5 15V16M348.5 15V17M349.5 15V17M350.5 15V16M351.5 15V16M352.5 15V16M353.5 15V16M354.5 14V16M355.5 15V17M356.5 15V16M357.5 15V17M358.5 15V17M359.5 15V16M360.5 15V16M361.5 15V17M362.5 15V16M363.5 15V16M364.5 15V17M365.5 15V17M366.5 15V16M367.5 14V16M368.5 15V17M369.5 13V16M370.5 15V16M371.5 15V16M372.5 15V16M373.5 15V16M374.5 14V16M375.5 15V17M376.5 13V17M377.5 15V16M378.5 14V17M379.5 15V16M380.5 15V16M381.5 13V16M382.5 15V16M383.5 15V16M384.5 15V16M385.5 14V16M386.5 15V16M387.5 14V17M388.5 14V17M389.5 14V16M390.5 14V16M391.5 15V16M392.5 15V16M393.5 15V16M394.5 15V16M395.5 14V17M396.5 13V17M397.5 15V16M398.5 15V16M399.5 14V16M400.5 15V16M401.5 14V16M402.5 15V16M403.5 15V16M404.5 15V17M405.5 15V16M406.5 14V17M407.5 15V16M408.5 15V16M409.5 15V17M410.5 15V16M411.5 15V16M412.5 14V16M413.5 15V16M414.5 13V16M415.5 14V16M416.5 14V17M417.5 14V16M418.5 15V16M419.5 15V16M420.5 14V16M421.5 15V17M422.5 15V16M423.5 12V17M424.5 15V16M425.5 15V17M426.5 14V16M427.5 15V16M428.5 14V17M429.5 15V16M430.5 15V17M431.5 15V16M432.5 15V16M433.5 15V16M434.5 15V17M435.5 13V16M436.5 15V16M437.5 15V16M438.5 15V16M439.5 15V16M440.5 14V16M441.5 15V16M442.5 15V17M443.5 15V17M444.5 15V17M445.5 15V17M446.5 14V16M447.5 14V16M448.5 15V16M449.5 14V17M450.5 15V16M451.5 15V17M452.5 14V16M453.5 15V17M454.5 14V16M455.5 14V16M456.5 15V16M457.5 14V16M458.5 15V16M459.5 14V17M460.5 15V16M461.5 15V16M462.5 15V16M463.5 14V16M464.5 14V16M465.5 15V17M466.5 15V16M467.5 12V16M468.5 15V16M469.5 15V16M470.5 13V16M471.5 13V16M472.5 15V17M473.5 14V16M474.5 15V16M475.5 15V16M476.5 15V16M477.5 15V16M478.5 15V17M479.5 15V17M480.5 15V16M481.5 15V16M482.5 15V17M483.5 15V16M484.5 14V16M485.5 15V16M486.5 14V16M487.5 13V17M488.5 15V17M489.5 15V17M490.5 14V16M491.5 15V17M492.5 15V16M493.5 15V16M494.5 14V17M495.5 15V16M496.5 15V17M497.5 14V17M498.5 15V16M499.5 12V17M500.5 15V16M501.5 15V17M502.5 15V17M503.5 15V16M504.5 15V17M505.5 15V17M506.5 13V16M507.5 14V17M508.5 15V16M509.5 15V16M510.5 13V16M511.5 15V17M512.5 15V17" stroke="#00ff80" fill="none" shape-rendering="crispEdges"/>
<rect x="513" y="11" width="3" height="7" fill="#fffce0" shape-rendering="crispEdges"/>
<rect x="516" y="11" width="4" height="7" fill="#d8d8d8" shape-rendering="crispEdges"/>
<rect x="0" y="19" width="521" height="18" fill="#fff" shape-rendering="crispEdges"/>
<rect x="0" y="37" width="491" height="10" fill="#800000" shape-rendering="crispEdges"/>
<g stroke="#000" stroke-width="1" fill="#d4d4d4" shape-rendering="crispEdges"><path d="M-3.0 5L0.5 1L4.0 5Z"/><rect x="-3.0" y="6.5" width="7" height="2.5"/></g>
<g stroke="#000" stroke-width="1" fill="#d4d4d4" shape-rendering="crispEdges"><path d="M-3.0 42L0.5 38L4.0 42Z"/><rect x="-3.0" y="43.5" width="7" height="2.5"/></g>
<g stroke="#000" stroke-width="1" fill="#d4d4d4" shape-rendering="crispEdges"><path d="M509.5 5L513 1L516.5 5Z"/><rect x="509.5" y="6.5" width="7" height="2.5"/></g>
<svg x="486" y="37" width="5" height="10" overflow="hidden"><g stroke="#000" stroke-width="1" fill="#d4d4d4" shape-rendering="crispEdges"><path d="M1.0 5L4.5 1L8.0 5Z"/><rect x="1.0" y="6.5" width="7" height="2.5"/></g></svg>
<path d="M249.5 5.0L254.0 0.5V3.0H260.0V0.5L264.5 5.0L260.0 9.5V7.0H254.0V9.5Z" fill="#e0e0e0" stroke="#303030" stroke-width="0.8"/>
<path d="M238.5 42.0L243.0 37.5V40.0H249.0V37.5L253.5 42.0L249.0 46.5V44.0H243.0V46.5Z" fill="#e0e0e0" stroke="#303030" stroke-width="0.8"/>
<defs><radialGradient id="sph" cx="0.5" cy="0.3" r="0.7"><stop offset="0" stop-color="#d8f8fa"/><stop offset="0.5" stop-color="#68c0cc"/><stop offset="1" stop-color="#2e8592"/></radialGradient></defs>
<circle cx="8.5" cy="56" r="5.6" fill="url(#sph)" stroke="#1c2c30" stroke-width="1"/>
<text y="33" fill="#000" stroke="#000"><tspan x="3.53" textLength="50.5" lengthAdjust="spacingAndGlyphs">D:\AY...\</tspan><tspan x="55.08" textLength="144.80" lengthAdjust="spacingAndGlyphs">5.-31_10_2013_03_sobre</tspan> <tspan x="203.53" textLength="26.01" lengthAdjust="spacingAndGlyphs">Pilar</tspan>  <tspan x="237.65" textLength="14.08" lengthAdjust="spacingAndGlyphs">en</tspan> <tspan x="255.34" textLength="29.26" lengthAdjust="spacingAndGlyphs">Calle</tspan> <tspan x="288.21" textLength="23.13" lengthAdjust="spacingAndGlyphs">San</tspan> <tspan x="315.85" textLength="85.00" lengthAdjust="spacingAndGlyphs">Gregorio_Calle</tspan> <tspan x="404.43" textLength="31.79" lengthAdjust="spacingAndGlyphs">Perro</tspan> <tspan x="439.97" textLength="42.54" lengthAdjust="spacingAndGlyphs">Alta.dat</tspan></text>
<text x="517" y="33" text-anchor="end" fill="#000" stroke="#000" textLength="25.81" lengthAdjust="spacingAndGlyphs">p/Pa</text>
</svg>
</body></html>
